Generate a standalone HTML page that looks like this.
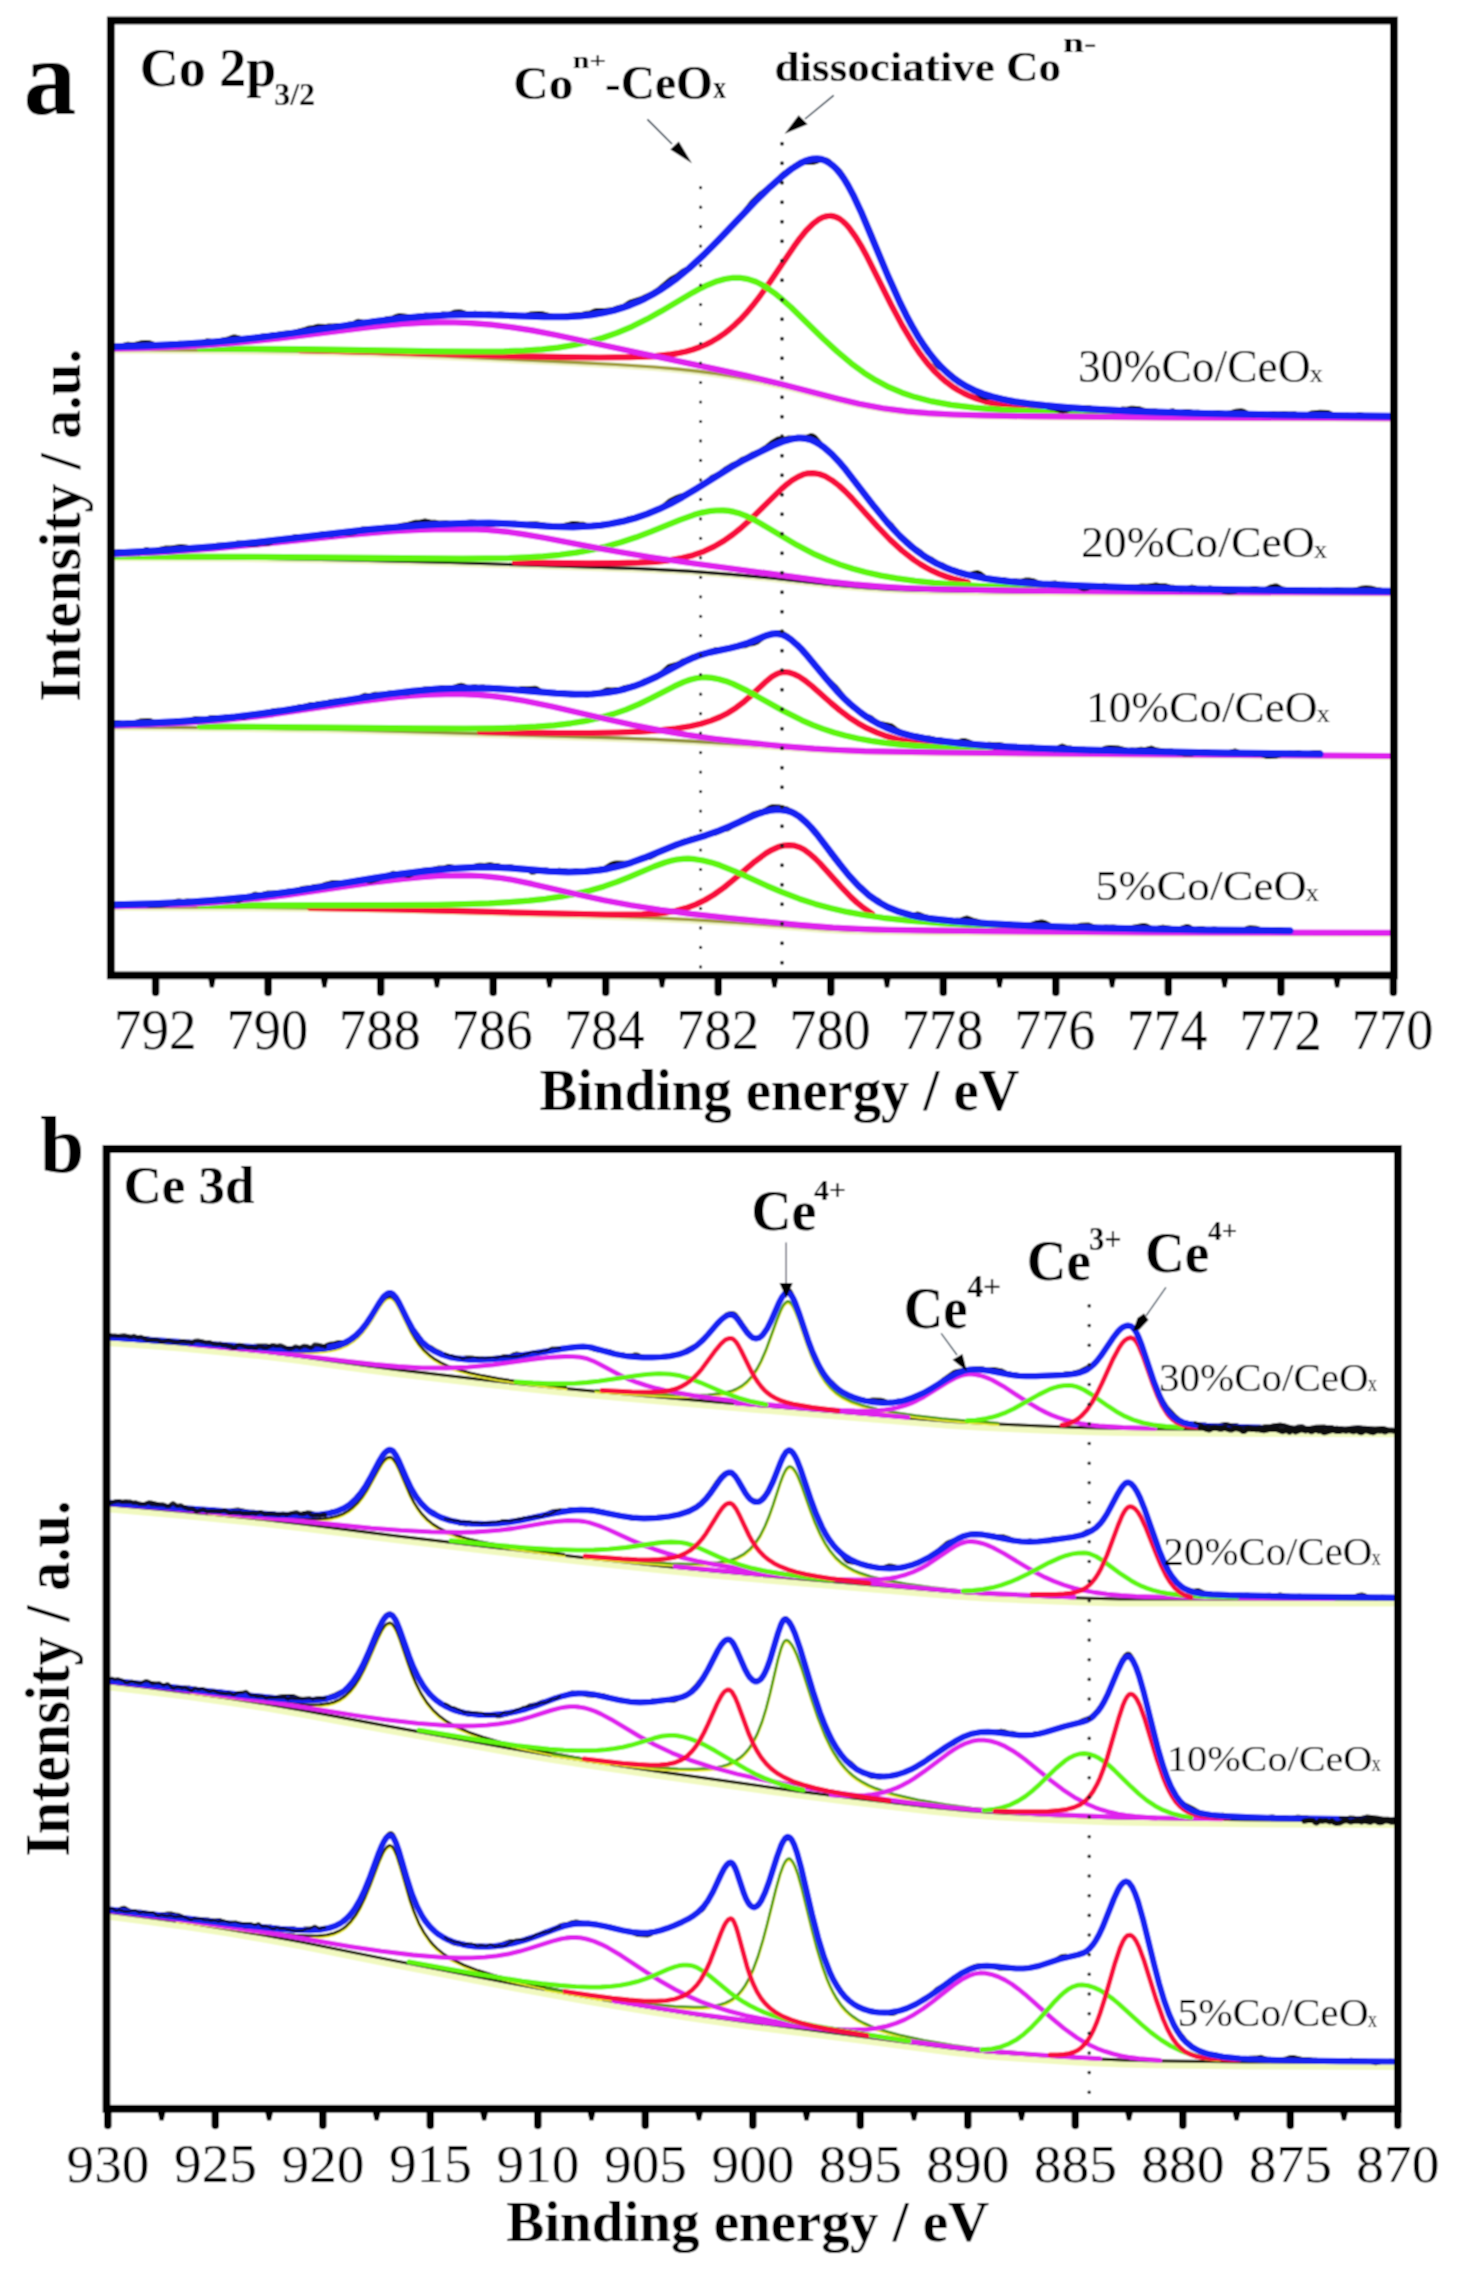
<!DOCTYPE html>
<html><head><meta charset="utf-8"><style>
html,body{margin:0;padding:0;background:#fff;width:1458px;height:2280px;overflow:hidden}
svg{display:block}
text{font-family:"Liberation Serif",serif}
</style></head><body>
<svg width="1458" height="2280" viewBox="0 0 1458 2280">
<defs><filter id="bl" x="0" y="0" width="1458" height="2280" filterUnits="userSpaceOnUse"><feConvolveMatrix order="3" kernelMatrix="1 2 1 2 4 2 1 2 1" edgeMode="duplicate" preserveAlpha="false"/></filter></defs>
<rect x="0" y="0" width="1458" height="2280" fill="#fff"/>
<g filter="url(#bl)">
<rect x="0" y="0" width="1458" height="2280" fill="#fff"/>
<polyline points="115,350.7 195,351.1 257,351.7 312,352.7 364,354.1 438,357 564,362.8 616,365.5 654,368 676,369.9 697,372.1 717,374.7 736,377.6 758,381.5 780,386.1 801,391 847,402.3 871,407.4 886,409.9 902,411.9 919,413.6 938,414.8 960,415.8 987,416.5 1071,417.7 1201,418.6 1390,419.2" fill="none" stroke="#e9efb0" stroke-width="6" stroke-linejoin="round" stroke-linecap="round" stroke-opacity="0.7"/>
<polyline points="115,349.7 195,350.1 257,350.7 312,351.7 364,353.1 438,356 564,361.8 616,364.5 654,367 676,368.9 697,371.1 717,373.7 736,376.6 758,380.5 780,385.1 801,390 847,401.3 871,406.4 886,408.9 902,410.9 919,412.6 938,413.8 960,414.8 987,415.5 1071,416.7 1201,417.6 1390,418.2" fill="none" stroke="#9c9a3a" stroke-width="3.2" stroke-linejoin="round" stroke-linecap="round"/>
<polyline points="300,350.2 377,351.9 526,356.4 565,357.1 599,357.5 630,357.2 653,356.3 671,354.4 679,353 686,351.5 693,349.5 700,347 706,344.5 712,341.4 718,337.9 724,333.8 730,329 735,324.6 740,319.8 746,313.4 752,306.3 758,298.7 770,282 794,246.4 800,238.2 806,230.8 813,223.7 819,219.3 822,217.7 825,216.6 828,216 831,215.9 834,216.4 837,217.5 840,219.1 843,221.4 846,224.2 849,227.6 856,237.4 861,245.6 867,256.6 891,304.5 902,325.1 913,343.4 919,352.3 924,359 929,365.2 935,371.8 940,376.6 946,381.8 952,386.3 958,390.1 964,393.4 970,396.2 977,398.9 985,401.4 994,403.6 1003,405.3 1014,407 1026,408.3 1056,410.7 1098,412.7 1151,414.3 1217,415.6 1300,416.5" fill="none" stroke="#f70a3c" stroke-width="6.2" stroke-linejoin="round" stroke-linecap="round"/>
<polyline points="200,348.5 303,349.1 440,351.3 480,351.5 504,351.3 524,350.5 542,349.3 558,347.6 574,345 589,341.8 603,337.8 617,332.9 632,326.6 647,319.1 661,311.3 693,292.4 701,288.1 708,284.8 717,281.2 725,279 733,277.8 740,277.8 748,279.1 756,281.8 760,283.7 765,286.5 774,292.7 782,299.2 791,307.3 823,338.5 837,351.4 851,363.2 864,372.8 876,380.3 889,387.2 902,392.7 915,397.1 932,401.4 951,404.9 974,407.7 1001,409.8 1036,411.7 1080,413.2 1133,414.5 1197,415.5" fill="none" stroke="#5ef50c" stroke-width="6.2" stroke-linejoin="round" stroke-linecap="round"/>
<polyline points="115,348.7 148,347.9 178,346.7 206,345.1 233,343.1 255,341 279,338.3 367,327.3 386,325.3 403,323.9 421,322.9 438,322.4 455,322.5 471,323.1 491,324.7 511,327.1 532,330.4 556,335 643,353.8 716,369.1 747,375.9 781,384 838,398.8 859,403.8 883,408.3 907,411.4 928,413.2 953,414.5 983,415.4 1025,416.2 1166,417.4 1390,418.2" fill="none" stroke="#df22ee" stroke-width="6.2" stroke-linejoin="round" stroke-linecap="round"/>
<polyline points="115,346 118,346.3 121,346 128,344.2 132,344.7 134,344.6 142,342.8 146,342.5 149,342.7 155,344.7 158,345.1 166,345.1 171,343.9 175,343.9 179,343.2 185,343.8 193,342.7 200,343.1 202,342.7 207,340.8 209,340.9 213,341.7 219,341 223,340 227,339.3 233,337 235,337 242,338.7 245,338.6 251,337.4 257,337.3 263,335.9 269,335.6 274,334.5 278,334.3 282,333.6 294,332.5 300,330.6 304,329.8 308,328.3 312,327.8 318,326.2 326,326.4 329,326 333,326.1 338,325.4 343,325.8 348,324.3 353,323.8 356,322.1 358,321.3 360,321.5 363,322.2 368,322.2 376,320.5 382,320.5 387,318.7 393,317.9 397,316.1 399,315.6 412,317 425,315.1 431,315.6 434,315.2 438,315.2 443,314 448,314.6 449,314.4 454,312.3 456,311.9 459,311.7 461,311.9 469,314.3 471,314.2 475,313.2 484,314.4 489,313.6 495,315 499,314.1 501,314 505,314.5 512,315.1 515,315 519,315.6 523,315.7 526,315.4 531,313.9 539,313.4 542,313.8 553,316.4 561,316.3 565,316 570,315.2 581,314.6 585,313.6 590,313.1 594,311.2 597,310.5 605,310.4 612,309.8 618,307.6 624,306.2 630,302.2 641,298.7 646,296.2 651,294.1 659,289 671,279 677,275.8 683,270.9 685,269.9 688,269 690,267.8 695,262.4 704,255.4 712,247 716,242.4 720,238.6 724,234 729,229.8 733,225 739,218.7 752,202.1 761,193.4 768,188.2 772,186 774,184.5 781,176.1 784,173.3 788,171 794,166.4 800,162.6 802,162.2 806,162.5 814,162.2 816,161.6 820,159.8 823,159.5 827,160.2 829,161.4 834,166.5 839,170.3 842,174.3 849,186.1 855,199.5 861,210.6 864,217 872,235.6 888,275.3 894,287.8 900,302 905,311.2 914,329.8 928,350.5 935,362.6 937,365.3 939,367.1 948,372 955,378.4 960,381.7 965,385.6 971,389.5 976,392 981,396 983,397.1 986,397.8 992,397.1 998,397.6 1005,399.1 1011,401.9 1015,401.9 1022,402.7 1027,402.8 1032,403.9 1041,404.8 1043,405.2 1049,407.5 1055,408.6 1061,410.6 1063,410.9 1066,410.4 1072,408.6 1077,408.6 1082,407.8 1089,407.7 1095,409.4 1104,409.2 1108,409.7 1113,410.9 1115,410.7 1122,409.1 1127,409.3 1131,408.3 1133,408.2 1139,408.7 1144,410.3 1150,411.3 1155,411 1161,412 1164,411.6 1168,411.8 1173,410.8 1177,412.6 1179,413 1186,411.5 1188,411.4 1193,412.4 1198,412.2 1200,412.4 1208,414.3 1210,414.1 1215,413 1219,412.6 1226,413.6 1231,412.6 1236,411.2 1241,410.7 1243,411.1 1248,413.5 1252,415.1 1254,415.5 1256,415.1 1260,413.7 1267,414.5 1273,413.5 1278,414 1284,413.5 1289,413.9 1295,413.8 1301,415.6 1303,415.9 1306,415.3 1312,412.9 1320,412.2 1328,412.6 1332,414.4 1336,415.1 1341,416.5 1347,415.2 1354,416 1358,414.8 1360,414.6 1364,415.4 1375,415.5 1380,416.5 1390,416.2" fill="none" stroke="#111" stroke-width="5" stroke-linejoin="round" stroke-linecap="round"/>
<polyline points="115,346.8 149,345.7 180,344.3 208,342.4 236,340 259,337.5 284,334.4 379,320.9 402,318.3 423,316.4 448,315 474,314.6 496,315 544,316.8 567,316.8 580,316.1 592,314.8 603,312.9 614,310.3 622,307.9 630,305.1 638,301.8 645,298.5 653,294.2 660,290 667,285.4 675,279.7 689,268.4 704,254.6 719,239.5 757,199.7 770,187.1 781,177.3 792,168.6 801,163 805,161.1 809,159.7 813,158.9 817,158.7 821,159.2 825,160.5 829,162.7 833,165.7 836,168.5 840,173.2 844,178.8 848,185.4 854,196.7 861,211.7 888,276 900,302.6 906,314.8 912,326 918,336.3 924,345.6 929,352.6 935,360.1 941,366.8 947,372.6 953,377.6 960,382.6 967,386.7 974,390.2 983,393.8 992,396.7 1003,399.4 1015,401.7 1029,403.7 1045,405.6 1064,407.2 1086,408.8 1139,411.4 1204,413.4 1286,415 1390,416.2" fill="none" stroke="#1622f2" stroke-width="7" stroke-linejoin="round" stroke-linecap="round"/>
<polyline points="115,558.2 241,559 347,560.8 450,563.5 640,569.7 688,572.1 731,575.3 771,579 836,586.2 862,588.5 891,590.3 923,591.5 976,592.5 1065,593.2 1390,594.1" fill="none" stroke="#e9efb0" stroke-width="6" stroke-linejoin="round" stroke-linecap="round" stroke-opacity="0.7"/>
<polyline points="115,557.2 241,558 347,559.8 450,562.5 640,568.7 688,571.1 731,574.3 771,578 836,585.2 862,587.5 891,589.3 923,590.5 976,591.5 1065,592.2 1390,593.1" fill="none" stroke="#141414" stroke-width="3.2" stroke-linejoin="round" stroke-linecap="round"/>
<polyline points="515,562.5 590,563.4 618,563.2 639,562.7 655,561.8 669,560.3 682,558.1 693,555.2 704,551.3 714,546.6 724,540.8 733,534.4 741,528 750,519.9 781,489.4 787,484.2 792,480.4 798,476.8 803,474.6 808,473.3 813,473.1 819,474 825,476.2 832,480.3 839,485.6 845,491.1 852,498.2 878,527.1 890,539.6 902,550.6 914,560 920,564 926,567.5 932,570.7 939,573.8 946,576.5 953,578.8 968,582.4" fill="none" stroke="#f70a3c" stroke-width="6.2" stroke-linejoin="round" stroke-linecap="round"/>
<polyline points="115,556.3 256,556.8 462,558.6 508,558.1 526,557.4 543,556.4 560,554.8 576,552.6 591,550 606,546.5 621,542.3 636,537.3 651,531.6 680,519.8 694,514.8 702,512.6 709,511.2 716,510.5 723,510.4 729,510.9 734,511.9 740,513.6 746,515.9 753,519.3 760,523.1 797,545.1 815,554.4 827,559.7 840,564.6 853,568.8 866,572.3 881,575.6 897,578.4 915,580.9 934,582.9 956,584.6 981,586 1043,588.4" fill="none" stroke="#5ef50c" stroke-width="6.2" stroke-linejoin="round" stroke-linecap="round"/>
<polyline points="115,554.2 165,551.8 214,548.3 258,544.3 349,534.8 390,531.4 413,530.1 434,529.3 455,529.1 476,529.5 487,530 498,530.8 510,532.2 523,534.1 544,537.7 594,547.4 621,552.3 651,557.2 685,562.2 826,581.3 854,584.4 881,586.6 906,588.1 935,589.2 1019,590.7 1169,591.9 1390,592.7" fill="none" stroke="#df22ee" stroke-width="6.2" stroke-linejoin="round" stroke-linecap="round"/>
<polyline points="115,552.3 120,551.5 126,552.6 128,552.7 132,551.7 134,551.5 139,552.8 141,552.4 145,550 147,549.5 151,551 153,551.4 155,550.9 158,549.7 166,548 171,548 181,546.4 187,547.2 193,548.5 197,547.6 202,547.3 206,546.4 210,547.1 211,547 215,545.6 217,545.3 226,544.9 232,545.4 233,545.2 236,543.5 238,543 242,543.3 248,544.5 256,544.4 261,543.1 263,542.9 268,543.3 274,541.1 291,538 296,536.5 298,536.4 303,537 307,536.8 319,534.7 324,533.5 326,533.7 329,534.7 331,535 333,534.9 340,533.3 350,533.4 355,532.5 361,529.5 363,528.9 371,529.3 376,528.4 386,527.3 390,527.3 395,527.8 401,525.4 407,524.6 415,522.3 420,522.2 425,520.9 430,521.9 435,522.2 440,523.1 446,522.8 454,524.3 457,524 461,522.9 471,522 475,522.3 481,523.5 491,524.5 494,524.2 498,522.9 500,523 504,523.9 515,523.3 521,524.3 524,524.6 526,524.6 530,523.9 536,523.7 542,524.6 550,526.2 555,526.2 559,526.6 561,526.3 572,523.6 574,523.4 579,524.1 583,524.2 588,526 590,526.2 597,526.2 607,524.7 613,523 618,522.6 621,521.9 629,518.6 636,518.1 645,514.4 650,511.9 655,511.1 657,510.5 663,506.4 670,500.8 676,497.6 679,496.5 682,495.8 685,494.6 698,487.1 703,484.6 706,482.5 712,477.2 719,473.9 726,468.6 733,464.5 737,462.8 742,459.4 746,457.9 752,454.4 759,451.5 767,446.5 772,442.4 778,439 780,438.7 784,439.1 789,437.9 794,438.8 797,438.8 802,437.4 807,437.1 811,435.6 813,436 815,437.4 822,445.5 837,458.8 843,466.8 851,475.9 861,489.2 871,501.6 878,511.4 884,518.4 892,525.7 899,534.5 902,537.5 908,542 913,547.1 920,551.7 926,556.7 931,558.7 935,561.8 937,563 943,565 948,568.3 953,569.6 966,574.7 967,575 969,574.9 974,573.2 977,572.6 978,572.7 980,573.6 985,577.3 987,578.3 995,580.4 998,580.4 1004,579.6 1010,581.9 1011,581.9 1015,580.9 1021,581.2 1026,580 1029,580 1033,580.6 1039,583.1 1042,583.8 1050,583.5 1055,582.9 1060,584.4 1064,584.3 1069,585.2 1076,585.9 1078,586.5 1082,588.3 1084,588.8 1086,588.6 1093,586.1 1095,585.8 1099,587.1 1100,587 1104,585.3 1105,585.4 1109,587.1 1113,586.8 1129,587.1 1137,586.7 1142,586 1147,586.3 1156,584.9 1160,585.8 1165,585.8 1170,586.9 1173,587.2 1179,589.5 1181,589.8 1185,589.3 1190,587.5 1192,587.1 1194,587.4 1198,589.2 1200,589.7 1203,589.6 1209,588.1 1211,588.1 1218,589.3 1224,591.5 1229,592 1235,591.5 1241,589.5 1248,589.6 1254,588.5 1256,588.6 1262,590 1264,589.8 1266,589.2 1270,587.2 1275,585.9 1277,586.1 1281,588.4 1284,589.3 1288,589.7 1293,589.6 1298,590.3 1303,589.9 1308,591 1310,591.2 1315,591.1 1320,589.8 1324,591.1 1326,591.3 1331,590.4 1337,589.7 1344,590.3 1353,590.3 1356,589.8 1361,588.3 1366,587.8 1372,588.3 1376,589.5 1380,590 1385,591.6 1390,591.2" fill="none" stroke="#111" stroke-width="5" stroke-linejoin="round" stroke-linecap="round"/>
<polyline points="115,552.9 166,550.3 216,546.4 262,541.8 369,529.6 399,526.9 427,524.9 459,523.5 489,523.1 509,523.8 552,526.4 573,526.9 592,526.1 601,525.2 610,523.9 623,521.3 635,518.1 647,514 659,509.1 670,503.8 682,497.3 696,489 731,467.2 742,461 756,453.8 773,445.6 784,441.1 793,438.7 797,438.1 801,438 805,438.4 809,439.3 812,440.3 816,442.2 820,444.6 824,447.4 832,454.4 839,461.8 846,470.1 874,506.3 887,522.1 894,529.9 900,536.1 906,541.8 912,547 918,551.7 924,556 930,559.7 937,563.6 944,566.9 951,569.7 958,572.1 966,574.3 976,576.6 986,578.5 997,580 1010,581.5 1042,584 1085,586.1 1140,587.9 1207,589.3 1289,590.4 1390,591.3" fill="none" stroke="#1622f2" stroke-width="7" stroke-linejoin="round" stroke-linecap="round"/>
<polyline points="115,727.8 242,729 339,730.6 420,732.8 608,738.7 655,740.4 694,742.3 741,745.2 822,750.5 847,751.6 876,752.4 936,753.4 1032,754.4 1390,757" fill="none" stroke="#e9efb0" stroke-width="6" stroke-linejoin="round" stroke-linecap="round" stroke-opacity="0.7"/>
<polyline points="115,726.8 242,728 339,729.6 420,731.8 608,737.7 655,739.4 694,741.3 741,744.2 822,749.5 847,750.6 876,751.4 936,752.4 1032,753.4 1390,756" fill="none" stroke="#8f8f3a" stroke-width="3.2" stroke-linejoin="round" stroke-linecap="round"/>
<polyline points="480,731.9 558,733 590,733 617,732.5 640,731.6 659,730.3 676,728.5 690,726.2 701,723.7 711,720.6 720,717 728,712.9 736,707.8 744,701.7 751,695.6 765,682.4 772,676.7 776,674.3 779,673 782,672.2 785,672 789,672.5 794,674.1 799,676.5 804,679.8 812,686.1 831,703 840,710.5 849,717.3 858,723.2 867,728.2 877,732.7 887,736.3 897,739.2 910,742 924,744.2 941,746.1 962,747.7 988,749.1 1019,750.3 1100,752.3" fill="none" stroke="#f70a3c" stroke-width="6.2" stroke-linejoin="round" stroke-linecap="round"/>
<polyline points="200,726.4 418,728.4 465,728.5 493,728.3 516,727.7 536,726.7 554,725.3 571,723.3 586,720.9 600,717.8 613,714.1 626,709.6 639,704.1 651,698.3 674,686.4 684,681.9 690,679.8 696,678.3 701,677.5 706,677.4 712,677.9 719,679.2 726,681.2 733,683.9 747,690.6 783,710.8 802,720.3 813,725.1 823,728.9 834,732.5 845,735.5 858,738.5 871,740.9 885,742.9 901,744.7 919,746.2 939,747.5 990,749.6" fill="none" stroke="#5ef50c" stroke-width="6.2" stroke-linejoin="round" stroke-linecap="round"/>
<polyline points="115,725.3 144,724.6 171,723.5 196,722 221,720.1 247,717.5 273,714.3 360,701.5 393,697.4 412,695.6 429,694.6 446,694.1 463,694.2 478,694.8 493,696.1 508,698.1 524,700.7 552,706.5 607,719.3 632,724.8 659,730.1 687,734.9 714,738.7 743,742.2 784,746.3 814,748.7 838,750 865,751.1 942,752.5 1101,754 1390,756" fill="none" stroke="#df22ee" stroke-width="6.2" stroke-linejoin="round" stroke-linecap="round"/>
<polyline points="115,722.7 118,722.5 122,723.5 124,723.7 129,722.4 134,722.9 140,721.1 148,720.6 150,720.7 154,722.2 156,722.6 164,722 172,722.2 178,720.5 183,721.3 185,721.2 190,720.3 193,719.1 195,718.6 204,719.6 206,719.3 210,717.7 215,717.4 217,717.4 221,717.9 225,717.1 229,717.3 233,716.7 237,716.4 239,716.5 244,717.4 246,716.9 250,715.1 253,714.2 260,714.4 264,713 275,710.4 278,710.3 281,710.9 283,710.9 290,708.7 295,707.9 300,706.7 305,706.3 310,704.5 314,704.6 319,703.5 326,703.1 331,701.5 336,701.1 340,700.3 344,701 346,701 353,699.5 358,698.1 360,697.4 364,695.5 365,695.3 370,695.7 375,694.2 384,693.9 390,692.9 395,693.4 400,692.5 405,693 409,692.9 411,692.6 416,690.8 424,689.1 435,688.9 442,687.8 448,688.5 454,687.3 459,685.6 461,685.2 464,685.9 468,688 469,688.2 470,688.1 473,686.9 475,686.7 478,687.5 482,687.1 484,687.1 488,688.3 490,688.6 495,688 503,688.6 508,688.6 517,690 522,688.5 527,688.8 535,688.3 537,688.8 541,691.4 543,692.3 548,692.1 552,693 556,692.9 560,693.7 565,693.1 570,694.7 577,694.6 580,693.9 582,693.8 585,694.8 587,695.1 591,694.2 596,693.8 599,693.2 606,690 608,689.8 612,690 616,689.5 619,689.6 621,689.1 625,687.4 628,687.1 632,686.1 637,685.5 639,684.7 643,681.9 645,680.8 650,679.6 653,678.3 662,672.7 669,666.4 677,664.2 679,663.3 683,660.8 687,659.6 692,657.2 701,654.1 709,652.2 715,649.7 725,649.2 730,647.8 735,647.2 739,646.1 745,645.8 750,643.9 754,643.5 757,642.3 763,637.8 765,636.6 774,633.5 780,632.5 783,633.3 788,636.3 791,638.9 799,646.7 803,650 810,658.1 825,676.8 835,686.2 840,692.2 847,701.3 852,706.6 854,707.9 857,709.2 859,710.4 865,715.4 871,717.7 877,722.5 879,723.3 891,725.8 893,726.9 896,729.4 902,732.7 904,733.5 908,734.2 911,735.2 915,735.7 919,736.7 925,737.8 930,738.1 935,739.5 940,739.7 945,741.4 949,741.6 953,742.4 958,741.9 963,740.5 965,740.6 968,741.6 975,744.5 977,744.9 984,744.8 989,744.2 995,744.7 1000,744.6 1003,745.2 1006,746.5 1008,747 1014,746.5 1020,747.1 1025,748 1030,747.1 1032,747 1039,748.3 1046,748.9 1051,748.8 1055,749.7 1057,749.1 1060,746.8 1062,746.1 1063,746.2 1067,747.9 1071,748.1 1076,749.4 1084,749.3 1090,750.7 1094,750.3 1099,750.8 1105,748.2 1110,747.5 1118,748 1127,750.2 1129,750.4 1132,750 1136,750.3 1141,749.2 1145,749.7 1151,748.1 1152,748.2 1155,749.5 1157,750.1 1161,750.4 1165,751.2 1172,751 1177,752.7 1185,754 1191,754 1199,752.8 1204,751.4 1215,752.9 1220,752.5 1225,753.6 1233,751.4 1235,751 1237,751.6 1241,753.5 1243,753.6 1247,752.6 1249,752.4 1251,752.8 1255,754.3 1261,754.4 1266,756.2 1268,756.6 1276,756 1281,754.5 1290,753 1294,753.2 1299,752.6 1304,753.9 1306,754 1314,752.8 1320,752.8" fill="none" stroke="#111" stroke-width="5" stroke-linejoin="round" stroke-linecap="round"/>
<polyline points="115,724.1 149,723.1 179,721.6 207,719.6 235,716.9 259,714 284,710.5 360,698.3 386,694.4 412,691.2 437,689.1 465,688 489,688.2 511,689.5 556,693.3 575,694.2 592,694 607,692.6 616,691.1 625,689 634,686.2 642,683.3 657,676.5 687,660.5 694,657.4 700,655.1 709,652.5 730,648.1 738,646.2 748,643 767,635.3 772,634 777,633.6 782,634.6 786,636.4 791,639.7 797,644.8 802,649.8 807,655.4 828,680.8 838,692.1 844,698.3 850,703.9 861,712.9 867,717.1 873,720.8 879,724.1 886,727.4 893,730.2 900,732.6 908,734.9 916,736.8 926,738.8 937,740.6 963,743.6 996,746.2 1037,748.3 1087,750.1 1148,751.6 1224,752.9 1320,754.1" fill="none" stroke="#1622f2" stroke-width="7" stroke-linejoin="round" stroke-linecap="round"/>
<polyline points="115,907.9 250,908.4 347,909.6 431,911.6 598,916.7 646,918.4 689,920.5 740,923.6 823,929.9 849,931.2 878,932 939,932.8 1045,933.4 1390,934.2" fill="none" stroke="#e9efb0" stroke-width="6" stroke-linejoin="round" stroke-linecap="round" stroke-opacity="0.7"/>
<polyline points="115,906.9 250,907.4 347,908.6 431,910.6 598,915.7 646,917.4 689,919.5 740,922.6 823,928.9 849,930.2 878,931 939,931.8 1045,932.4 1390,933.2" fill="none" stroke="#9c9a3a" stroke-width="3.2" stroke-linejoin="round" stroke-linecap="round"/>
<polyline points="310,907.8 395,909.3 540,913.2 606,914.5 627,914.7 642,914.4 654,913.8 665,912.7 676,910.8 686,908.1 696,904.4 705,900 714,894.6 724,887.5 733,880.2 755,861.4 766,853.3 772,849.8 778,847.1 784,845.5 789,845.1 794,845.5 799,847.1 804,849.6 810,854 815,858.4 820,863.4 841,886.7 851,897.1 857,902.6 862,906.7 872,913.7" fill="none" stroke="#f70a3c" stroke-width="6.2" stroke-linejoin="round" stroke-linecap="round"/>
<polyline points="200,905.4 385,905.2 438,904.8 465,904.2 489,903.4 510,902.2 529,900.7 546,898.8 562,896.4 576,893.8 590,890.5 604,886.4 617,881.9 629,877.1 654,866.5 665,862.5 671,860.8 677,859.5 683,858.8 688,858.7 695,859.2 703,860.5 711,862.4 720,865.3 735,871.3 767,885.8 782,892.2 799,898.7 815,903.9 831,908.3 847,911.9 864,915 883,917.8 909,920.6 940,923.1 975,925.1 1016,926.8 1063,928.3 1117,929.4 1258,931.1" fill="none" stroke="#5ef50c" stroke-width="6.2" stroke-linejoin="round" stroke-linecap="round"/>
<polyline points="115,906.1 149,905.4 179,904.3 207,902.8 233,900.8 259,898.3 286,895.1 371,882.8 403,878.8 421,877.1 438,876 455,875.5 471,875.6 481,876 491,876.8 501,878 512,879.8 532,883.9 579,894.8 604,900.2 631,905.2 660,909.8 691,913.9 729,918 798,924.9 833,927.7 858,928.9 888,929.8 986,931.2 1149,932.3 1390,932.9" fill="none" stroke="#df22ee" stroke-width="6.2" stroke-linejoin="round" stroke-linecap="round"/>
<polyline points="115,905.5 119,903.9 121,904 125,905.1 129,904.4 134,904.5 139,903.7 145,904.2 150,905.4 160,905.3 167,904.4 177,901.2 179,900.9 183,901.5 187,901.1 192,901.6 198,901.7 202,901.3 207,901.4 215,899.6 218,899.3 226,900.4 229,900.3 233,899.5 238,900.3 239,900.2 244,898.2 249,897 253,894.9 255,894.2 256,894.2 259,894.9 261,895 266,893.4 268,893 273,893 278,892.5 282,892.8 288,891.3 293,891.2 302,888.6 311,887.4 315,886.4 321,885.9 326,884.1 333,882.5 336,882.4 343,883.2 348,881.8 352,881.5 358,880.1 361,880.5 365,880.2 369,881.1 371,881.1 379,878.9 383,876.8 388,875.4 393,873.3 395,873.5 399,874.7 403,874.6 408,875.5 410,875 421,870.6 432,869.7 439,868 444,868 449,866.4 457,868 467,868 471,867.3 477,865.6 480,865.3 485,865.5 490,864.6 494,865.4 498,865.6 504,867.4 510,866.8 513,867.3 518,868.7 523,868.6 525,868.8 528,869.9 532,872.3 534,872.1 537,870.9 541,870.8 545,870.1 547,870.3 553,871.6 559,870.3 566,871 570,872 576,870.8 580,871.5 588,871.7 593,869.8 597,869.6 605,868.1 611,864.4 614,863.3 617,862.9 626,863.3 629,863.1 634,861.2 643,858.4 650,857.2 655,854.7 660,851.1 662,849.9 666,848.6 673,845.7 678,844.9 683,841.4 687,840.5 692,838.6 703,836.5 709,834.1 716,833 723,829.9 728,828.7 730,827.6 733,825.3 738,822.6 742,819.5 749,816.3 752,814.6 755,813.4 764,811 770,807.4 772,806.8 774,806.7 779,807 786,808.6 795,812.9 798,815 803,819.9 809,825.2 813,829.2 820,838.9 824,843.8 830,852.9 835,859.5 837,861.7 843,867.3 849,875.4 857,883.6 862,888 870,896.9 873,899.1 874,899.5 877,899.8 879,900.8 883,904.8 886,906.9 891,908.4 896,910.8 904,913.6 912,915.2 914,915.1 917,914.1 919,914.2 926,917 932,918.1 938,919.6 945,919.4 951,920.4 955,920.6 961,919.9 966,918.2 967,918.1 968,918.2 972,919.9 977,921.1 981,922.6 983,922.9 987,923 991,923.8 995,923.9 999,924.5 1009,923.9 1014,924.8 1021,925.4 1028,925.1 1030,924.8 1036,922.8 1040,922.1 1042,922 1045,922.7 1051,925.8 1054,926.8 1067,927.6 1069,927.5 1073,926.3 1078,925.9 1081,925.2 1087,924.9 1089,925.1 1094,926.9 1099,927.8 1101,927.8 1105,927.1 1109,927.2 1113,927 1127,928.8 1132,927.5 1142,925.6 1144,925.4 1147,926.2 1152,928.8 1154,929.1 1156,928.9 1161,927.4 1163,927.1 1177,929.2 1179,928.9 1187,926.5 1189,927 1193,929.2 1195,929.6 1200,928.5 1202,928.4 1206,929.6 1208,929.9 1214,929 1216,929.2 1220,930.2 1223,929.9 1228,930.2 1233,929.9 1242,930.6 1244,930.1 1248,928.1 1250,927.8 1256,928.2 1260,929.4 1265,929.5 1268,930.1 1270,930.1 1274,929.4 1279,929.5 1286,930.8 1290,930.7" fill="none" stroke="#111" stroke-width="5" stroke-linejoin="round" stroke-linecap="round"/>
<polyline points="115,904.8 153,903.7 187,902.2 218,900 247,897.3 272,894.3 298,890.6 375,878 401,874 427,870.8 452,868.5 476,867.2 493,867.2 510,868.1 549,871.2 568,872 585,871.6 600,870 608,868.7 616,866.9 624,864.8 632,862.3 644,857.9 677,844.5 686,841.5 706,835.3 719,830.7 730,826.2 752,816.3 760,813.1 765,811.5 770,810.4 775,809.7 779,809.6 786,810.5 790,811.6 793,812.8 799,816.3 806,822.2 811,827.4 817,834.4 840,864.5 849,875.6 859,886.4 869,895.3 878,901.7 888,907.2 899,911.7 911,915.1 919,916.8 929,918.4 953,921.1 987,923.6 1029,925.7 1078,927.4 1137,928.8 1207,929.9 1290,930.8" fill="none" stroke="#1622f2" stroke-width="7" stroke-linejoin="round" stroke-linecap="round"/>
<polyline points="110,1342.7 145,1345.2 181,1348.1 220,1351.7 259,1355.6 296,1360.1 369,1370.1 400,1374 490,1384.6 560,1392 625,1398 767,1410.3 952,1425.4 987,1427.5 1030,1429.5 1080,1431.4 1122,1432.5 1244,1433.5 1393,1433.8" fill="none" stroke="#eef7b0" stroke-width="7" stroke-linejoin="round" stroke-linecap="round" stroke-opacity="0.8"/>
<polyline points="110,1338.7 145,1341.2 181,1344.1 220,1347.7 259,1351.6 296,1356.1 369,1366.1 400,1370 490,1380.6 560,1388 625,1394 767,1406.3 952,1421.4 987,1423.5 1030,1425.5 1080,1427.4 1122,1428.5 1244,1429.5 1393,1429.8" fill="none" stroke="#202010" stroke-width="3" stroke-linejoin="round" stroke-linecap="round"/>
<polyline points="193,1345.5 263,1350.7 295,1352.6 308,1352.8 318,1352.5 327,1351.6 334,1350.3 341,1348.2 347,1345.6 353,1341.8 358,1337.7 363,1332.3 367,1327.1 371,1321.2 379,1308.2 383,1302.7 385,1300.6 387,1299.2 389,1298.5 390,1298.4 391,1298.6 393,1299.8 395,1301.9 397,1304.9 400,1310.5 411,1333.1 415,1339.9 419,1345.7 424,1351.6 429,1356.2 435,1360.7 441,1364.1 449,1367.8 459,1371.3 470,1374.3 483,1377.1 499,1380 518,1382.9 540,1385.8 566,1388.8" fill="none" stroke="#f0f030" stroke-width="3" stroke-linejoin="round" stroke-linecap="round"/>
<polyline points="193,1344 263,1349.2 295,1351.1 308,1351.3 318,1351 327,1350.1 334,1348.8 341,1346.7 347,1344.1 353,1340.3 358,1336.2 363,1330.8 367,1325.6 371,1319.7 379,1306.7 383,1301.2 385,1299.1 387,1297.7 389,1297 390,1296.9 391,1297.1 393,1298.3 395,1300.4 397,1303.4 400,1309 411,1331.6 415,1338.4 419,1344.2 424,1350.1 429,1354.7 435,1359.2 441,1362.6 449,1366.3 459,1369.8 470,1372.8 483,1375.6 499,1378.5 518,1381.4 540,1384.3 566,1387.3" fill="none" stroke="#1a1a00" stroke-width="2.5" stroke-linejoin="round" stroke-linecap="round"/>
<polyline points="596,1391.7 627,1394 654,1395.6 676,1396.5 694,1396.7 708,1396.2 719,1395.1 728,1393.3 732,1392.1 736,1390.5 742,1387.1 747,1383 752,1377.5 757,1370 761,1362.5 766,1351.1 777,1320.7 781,1310.8 783,1307 785,1304.4 787,1303 788,1302.8 789,1303 791,1304.5 793,1307.3 795,1311.2 799,1321.3 807,1344.7 811,1355.4 815,1364.7 820,1374.4 825,1382.2 830,1388.3 836,1393.9 843,1398.7 852,1403.1 863,1406.9 877,1410.5 894,1413.7 916,1416.9 942,1419.9 970,1422.5 998,1424.4" fill="none" stroke="#f0f030" stroke-width="3" stroke-linejoin="round" stroke-linecap="round"/>
<polyline points="596,1390.2 627,1392.5 654,1394.1 676,1395 694,1395.2 708,1394.7 719,1393.6 728,1391.8 732,1390.6 736,1389 742,1385.6 747,1381.5 752,1376 757,1368.5 761,1361 766,1349.6 777,1319.2 781,1309.3 783,1305.5 785,1302.9 787,1301.5 788,1301.3 789,1301.5 791,1303 793,1305.8 795,1309.7 799,1319.8 807,1343.2 811,1353.9 815,1363.2 820,1372.9 825,1380.7 830,1386.8 836,1392.4 843,1397.2 852,1401.6 863,1405.4 877,1409 894,1412.2 916,1415.4 942,1418.4 970,1421 998,1422.9" fill="none" stroke="#4d9a12" stroke-width="2.5" stroke-linejoin="round" stroke-linecap="round"/>
<polyline points="190,1344.3 267,1351.6 350,1361.7 375,1364.5 398,1366.5 422,1367.8 446,1368 468,1367.1 493,1364.8 534,1359 549,1357.3 565,1356.5 573,1356.7 580,1357.2 586,1358.3 593,1360.9 599,1363.8 620,1375.2 628,1378.9 637,1382.4 646,1385.4 656,1388.2 666,1390.5 678,1392.9 694,1395.6 712,1398.2 759,1403.7 815,1409.2 908,1417.3" fill="none" stroke="#df22ee" stroke-width="4.8" stroke-linejoin="round" stroke-linecap="round"/>
<polyline points="736,1403 799,1407.9 841,1410.5 855,1411 867,1411.1 877,1410.7 885,1409.9 892,1408.9 898,1407.5 905,1405.5 911,1403.2 917,1400.5 924,1396.8 947,1382.5 955,1378.1 960,1376 964,1374.8 968,1374.2 972,1374.2 977,1374.8 982,1376 987,1377.7 992,1379.9 1003,1386.1 1027,1401.8 1039,1408.9 1046,1412.5 1052,1415.2 1058,1417.5 1065,1419.8 1073,1421.9 1081,1423.6 1090,1424.9 1099,1425.9 1123,1427.5 1155,1428.3" fill="none" stroke="#df22ee" stroke-width="4.8" stroke-linejoin="round" stroke-linecap="round"/>
<polyline points="516,1381.8 533,1383 548,1383.6 562,1383.7 575,1383.3 587,1382.5 599,1381.2 635,1375.9 647,1374.4 659,1373.7 670,1374.1 680,1375.7 690,1378.6 700,1382.4 725,1393.1 739,1398.1 752,1401.7 766,1404.5" fill="none" stroke="#5ef50c" stroke-width="4.8" stroke-linejoin="round" stroke-linecap="round"/>
<polyline points="967,1420.7 976,1420.1 984,1419 992,1417.2 999,1415.1 1006,1412.4 1014,1408.6 1039,1394.5 1049,1389.6 1054,1387.7 1059,1386.4 1064,1385.6 1069,1385.4 1072,1385.6 1076,1386.5 1080,1388 1084,1389.9 1091,1394.1 1108,1406.1 1116,1411.3 1125,1416.3 1133,1419.7 1143,1422.9 1153,1424.9 1166,1426.5 1182,1427.5" fill="none" stroke="#5ef50c" stroke-width="4.8" stroke-linejoin="round" stroke-linecap="round"/>
<polyline points="602,1390.3 632,1391.9 653,1392.2 661,1391.7 667,1391 673,1389.7 678,1388 682,1386.2 686,1383.9 690,1381 694,1377.5 698,1373.4 702,1368.7 716,1349.7 721,1343.7 724,1340.9 726,1339.5 729,1338.4 731,1338.3 732,1338.5 734,1339.8 736,1341.9 738,1344.9 741,1350.4 751,1370.8 755,1377.8 758,1382.4 761,1386.3 764,1389.7 767,1392.5 771,1395.5 775,1397.9 780,1400.2 786,1402.2 793,1404 812,1407.3 838,1410.6" fill="none" stroke="#f70a3c" stroke-width="4.8" stroke-linejoin="round" stroke-linecap="round"/>
<polyline points="1062,1425.1 1066,1424.3 1070,1423.1 1076,1420.2 1079,1418 1082,1415.4 1087,1409.8 1092,1402.5 1097,1393.5 1102,1383.2 1113,1359 1119,1347.8 1122,1343.4 1125,1340.2 1128,1338.3 1131,1337.7 1133,1338.4 1135,1340.1 1137,1343 1139,1346.7 1143,1356.2 1153,1384.4 1157,1394.7 1162,1405.5 1167,1413.5 1170,1417.1 1173,1419.9 1176,1422.1 1180,1424.1 1184,1425.5 1188,1426.3 1200,1427.6" fill="none" stroke="#f70a3c" stroke-width="4.8" stroke-linejoin="round" stroke-linecap="round"/>
<polyline points="110,1337 114,1336.6 117,1336.7 131,1339.2 138,1337.8 146,1337.9 150,1338.9 154,1339.5 158,1340.4 163,1340.3 166,1340.5 175,1342.1 181,1341.6 185,1342.2 189,1342.3 194,1342.9 199,1342.9 205,1343.3 212,1344.7 217,1344.7 222,1345.2 231,1347.5 234,1347.9 242,1347.5 248,1346.1 253,1346 258,1345.4 262,1345.6 266,1345.4 269,1345.9 275,1348.2 280,1348.9 283,1348.9 288,1347.9 290,1348.1 294,1349.3 296,1349.1 300,1348.2 304,1348.7 308,1348.6 312,1349 314,1348.9 321,1347.4 324,1346.3 328,1344.3 330,1343.7 334,1343.3 339,1342 344,1342.1 346,1341.8 349,1340.5 352,1338.5 355,1335.9 361,1329.8 368,1321.2 371,1316.6 379,1302.6 382,1298.2 384,1296.1 387,1293.6 389,1292.6 390,1292.4 391,1292.5 392,1293.1 394,1295.2 403,1310.4 412,1327.4 417,1333.5 424,1343.3 426,1345 431,1347.1 436,1350.4 441,1352.6 445,1355.8 447,1356.6 451,1356.5 455,1357.7 461,1358.2 466,1357.4 470,1357.5 478,1358.5 483,1359.9 485,1360 490,1359.3 495,1357.9 500,1357.2 504,1356.2 510,1356 514,1354.1 516,1353.6 522,1354.2 528,1354.1 530,1353.8 534,1352.5 539,1352.6 543,1351.6 547,1351 551,1350.1 556,1349.8 562,1348 567,1348.2 573,1347 581,1346.7 588,1347 593,1349.2 597,1350.3 602,1350.8 607,1350.7 609,1350.9 618,1354.5 623,1354.5 628,1355.7 630,1355.6 634,1354.6 636,1354.4 638,1354.8 642,1356.5 645,1357 666,1357.2 670,1356.6 676,1354.1 681,1352.9 693,1346.5 697,1345 698,1344.4 706,1335.9 712,1330 717,1323.7 720,1320.4 726,1314.7 729,1313.4 732,1312.9 733,1313.1 734,1313.4 736,1314.9 738,1317.4 743,1324.9 749,1333.2 752,1336.7 754,1337.9 756,1338.4 758,1338.1 759,1337.6 761,1336 763,1333.7 768,1326.6 770,1322.9 777,1306.7 782,1296.6 785,1292 787,1290.2 788,1290 789,1290.2 790,1290.8 791,1292.1 794,1298.2 803,1324.1 809,1342.7 813,1353.1 818,1363.5 825,1374.9 828,1378.7 833,1383.1 837,1387.2 846,1394.5 855,1397.4 865,1399.9 868,1400.2 873,1399.5 881,1399.7 883,1400.1 888,1402 890,1402.4 892,1402.2 898,1400.7 904,1400.7 906,1400.3 914,1395.9 916,1395.4 919,1395.1 922,1394 931,1387.7 937,1384.5 944,1378.8 954,1372 957,1371 965,1369.8 973,1368.7 981,1368.2 983,1368.5 987,1369.8 993,1369.1 995,1369.1 1002,1370.5 1006,1372.6 1008,1373.3 1017,1374.7 1024,1374.9 1030,1375.6 1033,1375.4 1038,1375.7 1042,1375.1 1048,1375.6 1050,1375.6 1055,1374.8 1060,1374.6 1065,1373.5 1071,1373.1 1079,1371.3 1091,1365.3 1094,1363.2 1097,1359.9 1102,1353.4 1112,1338.6 1117,1332 1120,1329.2 1123,1327.3 1126,1326.1 1129,1325.8 1131,1326.2 1133,1327.5 1136,1331.4 1138,1335.2 1141,1342.9 1154,1380.9 1159,1393.1 1163,1400.7 1167,1407 1175,1415.9 1179,1419.1 1184,1422.2 1193,1424 1200,1424.7 1205,1424.5 1210,1425.6 1219,1425.3 1225,1424 1226,1424 1231,1425.3 1236,1425 1242,1427.1 1247,1426.5 1252,1427.5 1261,1427.3 1265,1426.3 1270,1426.2 1274,1425.2 1281,1424.6 1284,1425.1 1291,1427.5 1295,1428.3 1301,1427.7 1310,1428 1316,1426.7 1324,1426.4 1332,1428.2 1337,1427.7 1341,1429.3 1343,1429.8 1352,1428.1 1358,1428.4 1364,1427.8 1375,1428.6 1382,1427.9 1384,1428.1 1390,1430 1393,1430.2" fill="none" stroke="#111" stroke-width="4" stroke-linejoin="round" stroke-linecap="round"/>
<polyline points="110,1337.4 157,1340.3 242,1346.4 281,1348.8 296,1349.3 308,1349.4 318,1348.9 327,1347.9 336,1345.9 343,1343.5 350,1339.8 356,1335.2 361,1330.2 366,1324 371,1316.5 379,1303.3 383,1297.5 385,1295.4 387,1293.9 389,1293.1 390,1293 391,1293.1 393,1294.2 396,1297.6 399,1302.6 408,1320.8 412,1328.1 417,1335.7 422,1341.7 428,1347.1 434,1351 441,1354.3 450,1357.1 459,1358.7 469,1359.6 480,1359.7 492,1359.1 502,1358.2 514,1356.6 563,1348.6 575,1347.2 583,1346.7 588,1347 593,1347.9 615,1354 627,1356.2 635,1357 643,1357.4 652,1357.4 661,1357 670,1356.1 679,1354.3 686,1351.9 692,1348.8 697,1345.3 703,1339.9 708,1334.5 717,1324 721,1319.9 725,1316.7 727,1315.6 729,1314.9 731,1314.7 733,1315.1 736,1317.4 739,1321.1 747,1332.5 751,1336.5 753,1337.8 755,1338.4 757,1338.4 759,1337.8 761,1336.5 763,1334.6 767,1328.8 771,1321 779,1302.8 782,1297.2 785,1293.6 787,1292.7 788,1292.8 789,1293.2 791,1295 793,1298.1 795,1302.4 799,1313.1 808,1340.1 812,1350.7 818,1364 821,1369.5 824,1374.3 827,1378.4 831,1383 835,1386.8 839,1389.9 843,1392.5 848,1395.1 853,1397.2 859,1399.2 865,1400.7 871,1401.8 877,1402.5 883,1402.8 889,1402.7 894,1402.3 900,1401.4 905,1400.2 914,1397.2 923,1393.2 932,1388.2 949,1377.7 957,1373.5 964,1370.8 970,1369.6 976,1369.4 983,1369.9 990,1370.9 1011,1374.9 1019,1375.9 1026,1376.2 1036,1376.2 1065,1374.9 1074,1373.9 1080,1372.7 1084,1371.2 1087,1369.7 1091,1366.8 1094,1364.1 1097,1360.8 1101,1355.7 1113,1337.9 1118,1331.5 1121,1328.5 1123,1327.1 1126,1325.8 1128,1325.6 1131,1326.3 1133,1327.7 1135,1330.2 1137,1333.7 1139,1338.1 1142,1345.9 1154,1381.9 1160,1397.1 1163,1403.2 1167,1409.8 1170,1413.7 1174,1417.5 1178,1420.2 1183,1422.4 1188,1423.8 1195,1424.9 1205,1425.8 1219,1426.5 1260,1427.7" fill="none" stroke="#1622f2" stroke-width="6.2" stroke-linejoin="round" stroke-linecap="round"/>
<polyline points="110,1334.9 111,1335.3 115,1335.5 118,1336 124,1335.4 131,1336.9 134,1335.8 137,1337.2 138,1337.4 141,1336.9 147,1339.9 157,1339.8 159,1340.4 161,1341.5 162,1341.7 169,1340.4 173,1341.5 178,1342.3 181,1341.3 183,1341.1 186,1341.8 189,1341.8 192,1342.6 195,1340.9 198,1340.7 202,1341.3 206,1342.5 209,1342.2 210,1342.3 213,1343.6 217,1344.2 220,1343.7 223,1345.1 226,1344.8 228,1345.6 231,1345.9 233,1347.3 234,1347.6 235,1347.2 237,1345.7 239,1344.9 242,1345.4 247,1347.2 249,1347.3 252,1346.9 255,1347.9 256,1347.9 259,1346.2 260,1346.2 263,1347.3 266,1347.6 268,1347.2 272,1345.2 273,1345 277,1346 280,1345.4 281,1345.5 287,1348.1 290,1348.7 292,1348.3 295,1346.7 296,1346.6 300,1347.8 303,1346 304,1345.8 307,1346.1 310,1347.5 311,1347.6 312,1347 314,1345 315,1344.5 318,1344.8 325,1346.5" fill="none" stroke="#0a0a14" stroke-width="4.2" stroke-linejoin="round" stroke-linecap="round" stroke-opacity="0.9"/>
<polyline points="445,1353.6 449,1355 452,1355.5 455,1356.9 459,1357.1 462,1358.6 463,1358.7 467,1357.6 473,1356.9 475,1357 478,1357.8 482,1357.5 485,1358.1 493,1357 497,1357.8 502,1356.2 513,1356.7 518,1356.2 523,1354.9 526,1353.8 528,1353.6 531,1352 536,1351.9 539,1352.3 543,1350.9 546,1350.6 548,1349.9 551,1348 552,1347.6 560,1348.2" fill="none" stroke="#0a0a14" stroke-width="2.2" stroke-linejoin="round" stroke-linecap="round" stroke-opacity="0.9"/>
<polyline points="1195,1422.6 1201,1424.5 1204,1426.1 1205,1426.3 1208,1425.8 1211,1426.3 1214,1426 1222,1426.5 1226,1424.9 1228,1424.5 1229,1424.5 1233,1426.1 1237,1426.2 1240,1426.8 1243,1427.1 1249,1426.4 1253,1427.1 1257,1427 1260,1426.5 1263,1427.4 1264,1427.3 1268,1426.4 1272,1426.7 1275,1426.2 1280,1426.7 1288,1426.4 1294,1427.2 1295,1427.1 1298,1426 1302,1425.6 1303,1425.9 1306,1427.7 1311,1428.3 1313,1428.1 1316,1427.2 1320,1428.4 1322,1428.4 1330,1426.4 1332,1426.5 1335,1427.8 1337,1428.3 1341,1427.5 1345,1427.9 1358,1426.6 1362,1427.1 1365,1427.9 1368,1427.8 1371,1428.9 1374,1428.9 1378,1429.7 1382,1429.6 1386,1430.2 1391,1429 1393,1429" fill="none" stroke="#0a0a14" stroke-width="3.0" stroke-linejoin="round" stroke-linecap="round" stroke-opacity="0.9"/>
<polyline points="1200,1427.7 1202,1427.1 1206,1429.4 1209,1430.1 1210,1429.9 1213,1428.3 1215,1427.9 1220,1429.3 1222,1429.2 1225,1428.4 1230,1430.1 1232,1429.9 1235,1428.6 1237,1428.8 1240,1429.7 1243,1431.5 1244,1431.5 1245,1431 1247,1429.3 1248,1429.1 1252,1429.4 1254,1429.2 1256,1429.8 1257,1429.8 1258,1429.3 1262,1430.5 1264,1430.7 1269,1429.6 1277,1429.6 1281,1431.2 1283,1431.7 1285,1431 1286,1430.1 1287,1430.4 1289,1432.3 1290,1432.3 1292,1430.3 1293,1430.5 1295,1431.9 1296,1432 1301,1429.9 1302,1429.9 1305,1431 1306,1430.9 1308,1430 1311,1431.8 1312,1431.7 1315,1430.2 1316,1430.2 1319,1431.3 1321,1430.5 1323,1432.4 1324,1432.8 1325,1432.7 1329,1431.3 1333,1430.3 1337,1431.5 1340,1431.4 1343,1430.4 1346,1431.3 1349,1430.4 1353,1431.8 1354,1431.7 1356,1430.8 1357,1430.6 1360,1432.6 1361,1432.8 1362,1432.5 1365,1430.8 1366,1430.6 1371,1432.3 1373,1432.7 1374,1432.5 1377,1431.1 1378,1430.9 1380,1431.2 1381,1431.1 1382,1430.5 1384,1431.9 1385,1432.1 1386,1431.9 1388,1430.7 1389,1430.6 1391,1430.8 1392,1430.6 1393,1431.2" fill="none" stroke="#080808" stroke-width="5" stroke-linejoin="round" stroke-linecap="round"/>
<polyline points="110,1509 184,1515.4 262,1523.3 303,1528.1 393,1539.4 495,1551.5 585,1561.7 662,1570 712,1574.9 770,1580.3 955,1596.1 988,1598.2 1034,1600.2 1081,1601.9 1120,1602.9 1148,1603.1 1393,1603.1" fill="none" stroke="#eef7b0" stroke-width="7" stroke-linejoin="round" stroke-linecap="round" stroke-opacity="0.8"/>
<polyline points="110,1505 184,1511.4 262,1519.3 303,1524.1 393,1535.4 495,1547.5 585,1557.7 662,1566 712,1570.9 770,1576.3 955,1592.1 988,1594.2 1034,1596.2 1081,1597.9 1120,1598.9 1148,1599.1 1393,1599.1" fill="none" stroke="#202010" stroke-width="3" stroke-linejoin="round" stroke-linecap="round"/>
<polyline points="209,1514.1 269,1519 300,1520.7 312,1520.8 322,1520.3 330,1519.3 337,1517.6 343,1515.3 348,1512.5 353,1508.7 358,1503.8 362,1498.8 367,1491.3 379,1469.6 382,1464.7 384,1462.1 386,1460.1 388,1458.9 390,1458.6 391,1458.8 393,1460.2 396,1464.4 399,1470.5 410,1496.1 414,1503.8 418,1510.1 422,1515.4 427,1520.7 433,1525.6 439,1529.4 447,1533.3 456,1536.7 467,1539.9 480,1542.9 495,1545.8 514,1548.9 564,1555.7" fill="none" stroke="#f0f030" stroke-width="3" stroke-linejoin="round" stroke-linecap="round"/>
<polyline points="209,1512.6 269,1517.5 300,1519.2 312,1519.3 322,1518.8 330,1517.8 337,1516.1 343,1513.8 348,1511 353,1507.2 358,1502.3 362,1497.3 367,1489.8 379,1468.1 382,1463.2 384,1460.6 386,1458.6 388,1457.4 390,1457.1 391,1457.3 393,1458.7 396,1462.9 399,1469 410,1494.6 414,1502.3 418,1508.6 422,1513.9 427,1519.2 433,1524.1 439,1527.9 447,1531.8 456,1535.2 467,1538.4 480,1541.4 495,1544.3 514,1547.4 564,1554.2" fill="none" stroke="#1a1a00" stroke-width="2.5" stroke-linejoin="round" stroke-linecap="round"/>
<polyline points="585,1558 620,1561.3 648,1563.5 671,1564.9 690,1565.4 705,1565.1 718,1564 728,1562.1 733,1560.6 737,1559.1 744,1555.3 750,1550.4 755,1544.7 760,1537.2 765,1527.3 769,1517.6 773,1506.3 780,1484.8 783,1476.8 785,1472.5 787,1469.5 789,1468 790,1467.9 792,1468.7 794,1470.7 796,1473.8 798,1477.8 802,1487.8 810,1510.5 815,1523.7 820,1535 825,1544.4 830,1552 836,1559.2 842,1564.6 849,1569.2 854,1571.8 859,1574 871,1578 887,1581.8 906,1585.2 931,1588.8 958,1591.7 985,1594 1014,1595.7" fill="none" stroke="#f0f030" stroke-width="3" stroke-linejoin="round" stroke-linecap="round"/>
<polyline points="585,1556.5 620,1559.8 648,1562 671,1563.4 690,1563.9 705,1563.6 718,1562.5 728,1560.6 733,1559.1 737,1557.6 744,1553.8 750,1548.9 755,1543.2 760,1535.7 765,1525.8 769,1516.1 773,1504.8 780,1483.3 783,1475.3 785,1471 787,1468 789,1466.5 790,1466.4 792,1467.2 794,1469.2 796,1472.3 798,1476.3 802,1486.3 810,1509 815,1522.2 820,1533.5 825,1542.9 830,1550.5 836,1557.7 842,1563.1 849,1567.7 854,1570.3 859,1572.5 871,1576.5 887,1580.3 906,1583.7 931,1587.3 958,1590.2 985,1592.5 1014,1594.2" fill="none" stroke="#4d9a12" stroke-width="2.5" stroke-linejoin="round" stroke-linecap="round"/>
<polyline points="110,1503.9 166,1508.4 230,1514.1 371,1528.1 401,1530.4 431,1531.9 461,1532.3 475,1532 488,1531.2 500,1530.2 513,1528.5 547,1522.7 557,1521.3 568,1520.5 579,1520.9 584,1521.5 589,1522.5 599,1525.7 608,1529.4 630,1539.5 641,1544.2 654,1549.1 667,1553.4 681,1557.3 697,1561 714,1564.3 734,1567.6 767,1572.2 806,1576.7 897,1585.9 938,1589.7 965,1591.9 990,1593.5 1074,1597.1" fill="none" stroke="#df22ee" stroke-width="4.8" stroke-linejoin="round" stroke-linecap="round"/>
<polyline points="675,1566.7 750,1573.4 814,1578.1 837,1579.4 855,1579.9 869,1580 881,1579.4 890,1578.3 898,1576.8 906,1574.6 913,1572 920,1568.8 928,1564.3 950,1549.5 957,1545.3 961,1543.4 965,1542.1 969,1541.5 972,1541.5 977,1542.1 982,1543.3 987,1545 993,1547.6 1004,1553.5 1025,1566.3 1035,1572.1 1045,1577.3 1054,1581.3 1064,1585 1074,1588.1 1084,1590.5 1095,1592.5 1107,1594.1 1121,1595.4 1136,1596.3 1154,1596.9 1223,1597.9 1334,1598.5" fill="none" stroke="#df22ee" stroke-width="4.8" stroke-linejoin="round" stroke-linecap="round"/>
<polyline points="451,1540.7 493,1545 526,1547.8 553,1549.5 577,1550.2 594,1550 609,1549.2 626,1547.5 661,1542.5 671,1542 680,1542.4 686,1543.4 693,1545.5 700,1548.4 719,1557 728,1560.7 740,1564.8 752,1568.2 767,1571.4 784,1574.2 805,1577 833,1580.1" fill="none" stroke="#5ef50c" stroke-width="4.8" stroke-linejoin="round" stroke-linecap="round"/>
<polyline points="963,1591 973,1590.5 983,1589.4 992,1587.7 1001,1585.3 1010,1582.1 1019,1578.2 1028,1573.8 1049,1562.7 1060,1557.7 1066,1555.6 1072,1554 1078,1553.1 1084,1552.9 1087,1553.2 1090,1553.9 1096,1556.4 1103,1560.8 1121,1574.1 1131,1580.6 1136,1583.4 1142,1586.3 1147,1588.2 1153,1590.2 1160,1592 1167,1593.4 1183,1595.3 1205,1596.6 1237,1597.5" fill="none" stroke="#5ef50c" stroke-width="4.8" stroke-linejoin="round" stroke-linecap="round"/>
<polyline points="585,1556.1 622,1558.9 637,1559.6 649,1559.8 659,1559.5 667,1558.7 674,1557.5 680,1555.7 685,1553.5 690,1550.5 694,1547.4 698,1543.6 702,1539 706,1533.6 718,1514.2 722,1508.4 724,1506.1 726,1504.4 728,1503.4 730,1503.2 731,1503.4 733,1504.7 736,1508.7 739,1514.3 749,1535.4 752,1540.8 756,1546.9 760,1551.9 764,1556 769,1560.1 774,1563.3 781,1566.8 788,1569.5 796,1572 806,1574.3 817,1576.4 831,1578.6 869,1583.2" fill="none" stroke="#f70a3c" stroke-width="4.8" stroke-linejoin="round" stroke-linecap="round"/>
<polyline points="1032,1594.5 1056,1594.3 1064,1593.9 1071,1593.1 1076,1592.1 1081,1590.4 1085,1588.3 1089,1585.3 1092,1582.3 1095,1578.6 1098,1574 1101,1568.6 1107,1555.1 1118,1525.5 1122,1515.9 1124,1512.1 1126,1509.2 1128,1507.3 1130,1506.6 1132,1506.9 1135,1508.8 1138,1512.3 1141,1517.3 1146,1528.1 1157,1555.9 1161,1565.3 1166,1575.4 1170,1581.9 1175,1588.2 1180,1592.5 1185,1595.3 1191,1597.3" fill="none" stroke="#f70a3c" stroke-width="4.8" stroke-linejoin="round" stroke-linecap="round"/>
<polyline points="110,1502.3 119,1502.9 127,1502.4 132,1504.4 138,1505.7 140,1505.9 143,1505.1 149,1502.6 151,1502.4 157,1504 163,1506 170,1505.9 175,1507.8 177,1508.1 186,1507.3 191,1509 193,1509.4 204,1509.4 211,1508.9 215,1509.6 220,1511.1 225,1511.9 227,1511.6 233,1509.9 238,1509.5 249,1511.7 254,1511.7 259,1513.1 264,1513.4 272,1513.1 275,1513.6 280,1514.9 288,1515.1 293,1514 298,1514.7 300,1514.3 304,1512.9 309,1512.4 311,1512.7 315,1514.1 323,1514.1 325,1513.9 332,1511.5 343,1509.3 345,1508 353,1500.5 359,1494.2 368,1481.7 370,1478.4 375,1468.8 381,1458.6 383,1455.7 385,1453.6 387,1452.3 389,1451.3 391,1451.1 393,1451.9 394,1452.7 397,1456.9 401,1465.1 408,1481.8 412,1489.5 419,1499.5 426,1507.5 429,1510.3 434,1512.4 440,1517.1 443,1518.2 451,1520.2 459,1523.5 466,1524.5 471,1523.4 476,1523.9 486,1522.9 491,1523.4 494,1523.4 497,1523 501,1521.8 507,1521.1 513,1521.7 515,1521.1 518,1519.7 520,1519.2 536,1516.4 542,1515.8 546,1514.3 550,1512.1 553,1511.1 566,1510.2 571,1509.3 576,1510.2 580,1509.2 585,1509.7 589,1508.9 591,1509 595,1510.2 602,1511.2 608,1513.3 614,1514.4 621,1515.1 629,1517.9 633,1518.9 635,1518.9 640,1518.1 646,1518.3 651,1518 660,1517.2 666,1516 671,1515.8 680,1514.1 690,1509.7 697,1505.9 703,1501.3 706,1498.2 717,1481.6 721,1476.4 724,1473.8 727,1472.4 729,1472.2 731,1472.5 733,1473.6 735,1475.5 738,1479.7 745,1491.9 748,1496.2 750,1498.4 752,1499.8 754,1500.6 757,1501 759,1500.6 761,1499.2 764,1496.1 766,1493.4 768,1490.1 775,1475.2 781,1460.8 784,1454.8 787,1451 789,1449.8 790,1449.8 791,1450.3 793,1452.5 795,1455.9 797,1460.2 806,1484.7 814,1508.1 817,1515.4 825,1532.9 828,1537.9 835,1547.3 840,1552.9 846,1560.3 847,1561.1 849,1562.1 869,1565.2 875,1567 877,1567.4 882,1567.6 889,1565.5 892,1565.8 899,1567.4 902,1567.2 908,1565.4 914,1563.3 918,1561.5 922,1560.8 924,1560.1 927,1558.3 933,1553.6 938,1550.3 946,1543.4 948,1542.1 956,1539.1 966,1536 970,1534 972,1533.4 974,1533.4 987,1535.3 993,1535.5 997,1536.2 1003,1536.2 1010,1538.5 1014,1540.2 1023,1541.5 1025,1541.4 1030,1540.5 1037,1541.9 1044,1540.9 1052,1538.8 1055,1538.6 1062,1539.1 1069,1537.1 1074,1536.7 1079,1535.8 1081,1535 1086,1531.6 1088,1530.8 1091,1530.4 1093,1529.6 1096,1527.5 1100,1523.8 1102,1521.4 1105,1516.7 1117,1494.8 1121,1488.1 1124,1484.5 1126,1483.2 1128,1482.8 1129,1482.9 1131,1483.8 1134,1486.4 1137,1491.1 1141,1499.3 1144,1506.2 1147,1514.2 1160,1552 1163,1559.2 1167,1567.2 1171,1574.1 1176,1581.2 1180,1585.7 1183,1587.6 1188,1589 1192,1590.7 1194,1590.7 1197,1590.1 1199,1590.3 1204,1592.6 1208,1593.7 1215,1594.5 1221,1594.2 1229,1595.8 1234,1595.2 1242,1595.5 1246,1594.8 1248,1594.7 1258,1596.5 1265,1595.1 1270,1594.8 1275,1595.4 1280,1594.4 1285,1595.5 1293,1596.2 1300,1595.8 1305,1596.8 1310,1596.7 1315,1597.2 1321,1596.7 1336,1597 1343,1596.7 1348,1597.8 1351,1597.4 1358,1595.1 1362,1594.6 1364,1594.9 1368,1596.7 1372,1597.4 1375,1598.3 1377,1598.2 1382,1596.8 1386,1596.9 1391,1597.6 1393,1597.6" fill="none" stroke="#111" stroke-width="4" stroke-linejoin="round" stroke-linecap="round"/>
<polyline points="110,1502.9 230,1511.7 276,1514.6 294,1515.2 308,1515.2 320,1514.5 329,1513.3 337,1511.2 344,1508.2 350,1504.3 356,1498.8 361,1492.8 366,1485.4 370,1478.4 379,1461.4 383,1455 385,1452.5 387,1450.8 389,1449.9 390,1449.8 391,1450 393,1451.2 396,1455.3 399,1461.2 407,1479.7 411,1488 416,1496.5 421,1503.2 427,1509.1 430,1511.5 434,1514 441,1517.5 450,1520.5 460,1522.5 472,1523.7 485,1524 498,1523.3 509,1522.1 521,1520.2 553,1513.4 563,1511.6 572,1510.4 581,1509.9 588,1510.1 595,1510.9 621,1516 632,1517.6 644,1518.3 657,1517.9 669,1516.5 679,1514.5 689,1511.2 696,1507.6 701,1503.8 706,1498.8 711,1492.5 720,1479.8 723,1476.3 726,1473.7 729,1472.5 731,1472.6 732,1473.1 735,1475.9 738,1480.4 745,1492.4 748,1496.7 750,1498.9 753,1501.1 755,1501.9 758,1501.9 760,1501.2 762,1499.8 764,1497.8 768,1492 773,1481.6 780,1463.8 783,1457 786,1452.2 788,1450.6 789,1450.3 791,1451 793,1453 795,1456.1 797,1460.1 801,1470.4 811,1500.2 816,1513.6 822,1527.1 825,1532.8 829,1539.3 833,1544.7 837,1549.2 841,1553 845,1556.1 850,1559.2 856,1562.1 862,1564.3 868,1566 879,1568 890,1568.5 896,1568.2 901,1567.6 906,1566.6 911,1565.3 919,1562.3 928,1557.8 936,1552.9 952,1542.1 958,1538.6 964,1535.9 970,1534.5 976,1534.2 983,1534.7 990,1535.9 1013,1540.5 1021,1541.5 1029,1541.8 1038,1541.5 1049,1540.4 1073,1537 1082,1535 1088,1532.6 1092,1530.5 1096,1527.7 1100,1523.8 1103,1520 1107,1513.9 1118,1493.3 1121,1488.3 1123,1485.6 1125,1483.6 1127,1482.6 1128,1482.5 1129,1482.6 1131,1483.7 1134,1486.9 1137,1491.6 1140,1497.7 1145,1510.2 1159,1549.9 1164,1562 1168,1570 1172,1576.5 1177,1582.7 1182,1587 1185,1588.8 1188,1590.3 1194,1592.2 1202,1593.6 1212,1594.4 1229,1595.2 1294,1596.7 1393,1597.7" fill="none" stroke="#1622f2" stroke-width="6.2" stroke-linejoin="round" stroke-linecap="round"/>
<polyline points="110,1502.9 115,1501.4 119,1501 120,1501.1 122,1501.9 126,1501.3 128,1501.6 130,1501.5 133,1502.6 136,1502.4 139,1503.6 142,1504 145,1503.9 148,1502.6 149,1502.7 152,1504.2 154,1504 157,1504.5 163,1504.4 164,1504.7 167,1506.1 168,1506.3 169,1506.1 172,1503.6 173,1503.2 174,1503.6 177,1505.9 178,1505.9 180,1505.3 181,1505.4 184,1507 188,1508.5 189,1508.8 192,1508.5 193,1508.8 196,1511.2 197,1511.3 203,1509.6 204,1509.7 207,1511.5 211,1511 221,1511.3 224,1510.4 225,1510.5 230,1513 234,1512.3 237,1512.7 239,1512.3 240,1512.4 243,1513.4 246,1513.1 249,1513.4 253,1512.8 256,1513.6 260,1512.1 261,1512.2 265,1514.1 269,1513.7 279,1514.4 283,1513.7 286,1514.4 287,1514.4 292,1513 296,1512.4 297,1512.4 300,1513.8 302,1514.2 304,1513.9 307,1512.7 308,1512.8 309,1513.2 311,1514.8 313,1515.5 317,1515.1 320,1515.8 323,1514.6 324,1514.5 325,1514.8" fill="none" stroke="#0a0a14" stroke-width="4.2" stroke-linejoin="round" stroke-linecap="round" stroke-opacity="0.9"/>
<polyline points="445,1518.7 447,1519.3 451,1519.6 454,1520.8 458,1520.5 461,1521.9 462,1522 464,1521.5 467,1521.8 469,1521.6 472,1522.5 476,1522.2 481,1523.3 484,1522.8 488,1522.9 492,1522 495,1522.1 497,1521.9 502,1520.6 510,1521.1 516,1519.2 520,1519.4 524,1517.9 526,1518 531,1517.4 535,1516.2 538,1516.4 541,1517 542,1516.8 545,1514.1 546,1514.1 548,1514.7 549,1514.6 553,1512.8 556,1510.8 560,1509.5" fill="none" stroke="#0a0a14" stroke-width="2.2" stroke-linejoin="round" stroke-linecap="round" stroke-opacity="0.9"/>
<polyline points="110,1687 148,1691.4 187,1696.4 229,1702.3 267,1708.1 307,1715 386,1729.8 506,1751.5 548,1758.7 598,1766.5 664,1776.2 800,1795.4 841,1800.6 932,1811.3 966,1814.6 996,1816.8 1055,1819.7 1108,1821.7 1147,1822.6 1245,1823.7 1322,1824.3 1393,1824.5" fill="none" stroke="#eef7b0" stroke-width="7" stroke-linejoin="round" stroke-linecap="round" stroke-opacity="0.8"/>
<polyline points="110,1683 148,1687.4 187,1692.4 229,1698.3 267,1704.1 307,1711 386,1725.8 506,1747.5 548,1754.7 598,1762.5 664,1772.2 800,1791.4 841,1796.6 932,1807.3 966,1810.6 996,1812.8 1055,1815.7 1108,1817.7 1147,1818.6 1245,1819.7 1322,1820.3 1393,1820.5" fill="none" stroke="#202010" stroke-width="3" stroke-linejoin="round" stroke-linecap="round"/>
<polyline points="191,1693.2 267,1702.5 298,1705.6 310,1706.2 320,1706.1 328,1705.1 334,1703.5 340,1700.8 345,1697.4 350,1692.7 355,1686.5 359,1680.3 364,1670.9 368,1662.3 378,1639.2 382,1631.3 384,1628.2 386,1626 388,1624.7 390,1624.3 391,1624.6 393,1626.2 395,1629.2 397,1633.3 400,1641 408,1664.6 412,1675.5 416,1684.9 421,1694.8 427,1704.1 433,1711.3 440,1717.8 447,1722.9 457,1728.5 469,1733.7 483,1738.5 501,1743.6 522,1748.6 546,1753.5 575,1758.8 609,1764.4" fill="none" stroke="#f0f030" stroke-width="3" stroke-linejoin="round" stroke-linecap="round"/>
<polyline points="191,1691.7 267,1701 298,1704.1 310,1704.7 320,1704.6 328,1703.6 334,1702 340,1699.3 345,1695.9 350,1691.2 355,1685 359,1678.8 364,1669.4 368,1660.8 378,1637.7 382,1629.8 384,1626.7 386,1624.5 388,1623.2 390,1622.8 391,1623.1 393,1624.7 395,1627.7 397,1631.8 400,1639.5 408,1663.1 412,1674 416,1683.4 421,1693.3 427,1702.6 433,1709.8 440,1716.3 447,1721.4 457,1727 469,1732.2 483,1737 501,1742.1 522,1747.1 546,1752 575,1757.3 609,1762.9" fill="none" stroke="#1a1a00" stroke-width="2.5" stroke-linejoin="round" stroke-linecap="round"/>
<polyline points="553,1755.8 591,1761.2 626,1765.7 655,1768.7 678,1770.3 696,1770.6 710,1769.7 716,1768.9 722,1767.6 727,1766.1 732,1764 736,1761.8 740,1759.1 743,1756.5 746,1753.4 749,1749.7 752,1745.2 757,1735.7 762,1723 766,1710.1 770,1694.7 778,1660.4 781,1649.8 783,1644.8 784,1643.1 785,1642 786,1641.5 787,1641.6 789,1642.7 792,1646.3 794,1649.8 797,1656.5 802,1670.3 812,1701.5 818,1719 825,1736.6 831,1749 834,1754.3 838,1760.5 841,1764.6 845,1769.4 849,1773.5 853,1777 857,1780 862,1783.1 869,1786.8 876,1789.8 884,1792.6 894,1795.6 905,1798.3 918,1801.2 946,1806 972,1809.5 998,1812 1043,1815 1090,1817.4" fill="none" stroke="#f0f030" stroke-width="3" stroke-linejoin="round" stroke-linecap="round"/>
<polyline points="553,1754.3 591,1759.7 626,1764.2 655,1767.2 678,1768.8 696,1769.1 710,1768.2 716,1767.4 722,1766.1 727,1764.6 732,1762.5 736,1760.3 740,1757.6 743,1755 746,1751.9 749,1748.2 752,1743.7 757,1734.2 762,1721.5 766,1708.6 770,1693.2 778,1658.9 781,1648.3 783,1643.3 784,1641.6 785,1640.5 786,1640 787,1640.1 789,1641.2 792,1644.8 794,1648.3 797,1655 802,1668.8 812,1700 818,1717.5 825,1735.1 831,1747.5 834,1752.8 838,1759 841,1763.1 845,1767.9 849,1772 853,1775.5 857,1778.5 862,1781.6 869,1785.3 876,1788.3 884,1791.1 894,1794.1 905,1796.8 918,1799.7 946,1804.5 972,1808 998,1810.5 1043,1813.5 1090,1815.9" fill="none" stroke="#4d9a12" stroke-width="2.5" stroke-linejoin="round" stroke-linecap="round"/>
<polyline points="110,1681.9 172,1688.9 242,1698.1 279,1703.4 356,1715.5 385,1719.6 418,1723.3 445,1725.4 460,1726 474,1725.9 487,1725.2 499,1723.9 510,1722.1 521,1719.6 531,1716.7 551,1710.4 560,1708 565,1707.2 570,1706.7 575,1706.6 579,1707 584,1707.8 590,1709.5 595,1711.3 601,1714 611,1719.3 639,1736.1 654,1744.3 672,1752.9 690,1760.1 712,1767.3 737,1774 766,1780.4 799,1786.6 840,1793.1 907,1802.3 949,1807.3 985,1810.6 1041,1814 1099,1816.5 1142,1817.7 1222,1818.9" fill="none" stroke="#df22ee" stroke-width="4.8" stroke-linejoin="round" stroke-linecap="round"/>
<polyline points="831,1794.8 849,1795.8 857,1795.8 865,1795.4 872,1794.6 879,1793.4 885,1791.9 891,1790 897,1787.7 902,1785.4 908,1782.2 914,1778.5 924,1771.6 948,1753.6 954,1749.5 960,1746 966,1743.2 972,1741.2 978,1740.2 984,1740.1 991,1741.1 998,1743.2 1005,1746.3 1012,1750.3 1018,1754.3 1025,1759.4 1051,1780.6 1063,1789.7 1076,1798.2 1088,1804.4 1095,1807.4 1102,1809.9 1110,1812.2 1118,1814 1126,1815.4 1135,1816.5 1156,1818.1" fill="none" stroke="#df22ee" stroke-width="4.8" stroke-linejoin="round" stroke-linecap="round"/>
<polyline points="419,1730.1 477,1739.7 517,1745.6 549,1749.1 564,1750.2 577,1750.7 587,1750.7 597,1750.4 606,1749.7 614,1748.7 623,1747.1 631,1745.2 654,1738.2 662,1736.2 670,1735.3 674,1735.3 678,1735.8 684,1737 690,1738.8 696,1741 703,1744.2 715,1750.7 746,1769 755,1773.8 764,1778 773,1781.6 782,1784.7 792,1787.6 803,1790.2" fill="none" stroke="#5ef50c" stroke-width="4.8" stroke-linejoin="round" stroke-linecap="round"/>
<polyline points="984,1810.3 993,1809.5 1002,1807.6 1010,1804.9 1018,1801 1025,1796.6 1033,1790.3 1040,1783.9 1056,1768.4 1065,1760.8 1070,1757.6 1075,1755.2 1080,1753.8 1084,1753.5 1089,1754.1 1094,1755.7 1099,1758.2 1104,1761.5 1109,1765.4 1114,1769.9 1131,1786.6 1139,1794 1147,1800.5 1155,1805.8 1163,1810 1172,1813.5 1181,1815.8 1191,1817.5" fill="none" stroke="#5ef50c" stroke-width="4.8" stroke-linejoin="round" stroke-linecap="round"/>
<polyline points="584,1758.8 623,1763.3 638,1764.5 650,1765.1 660,1765 668,1764.2 674,1762.9 680,1760.6 684,1758.4 688,1755.3 692,1751.3 696,1746.2 700,1740 704,1732.6 708,1724.2 717,1704 721,1696.3 723,1693.3 725,1691.2 727,1690 729,1689.8 730,1690.2 732,1692 735,1697.2 738,1704.4 749,1734.3 753,1743.3 757,1750.9 761,1757.2 766,1763.5 771,1768.5 777,1773.1 784,1777.3 793,1781.4 803,1784.8 815,1788.1 828,1791 843,1793.8 889,1800.8" fill="none" stroke="#f70a3c" stroke-width="4.8" stroke-linejoin="round" stroke-linecap="round"/>
<polyline points="995,1811.1 1015,1811.6 1033,1811.7 1048,1811.3 1059,1810.4 1067,1809.3 1074,1807.4 1080,1804.7 1085,1801.1 1089,1797 1093,1791.5 1097,1784.4 1100,1777.9 1103,1770.2 1107,1758.5 1119,1717.2 1123,1705.1 1125,1700.4 1127,1696.9 1129,1694.7 1130,1694.2 1131,1694.1 1133,1694.8 1135,1696.7 1137,1699.6 1140,1705.8 1145,1719.8 1157,1759.5 1163,1777 1166,1784.4 1169,1790.8 1172,1796.2 1176,1802.1 1180,1806.5 1184,1809.7 1188,1812 1193,1814 1199,1815.5 1206,1816.5 1229,1818" fill="none" stroke="#f70a3c" stroke-width="4.8" stroke-linejoin="round" stroke-linecap="round"/>
<polyline points="110,1680.3 113,1680.8 124,1681.2 129,1682.2 136,1683.1 140,1682.9 146,1683.4 150,1683 153,1683.1 160,1684.9 167,1685.8 173,1687.4 179,1687.4 183,1687.9 189,1687.4 197,1689.8 203,1689.6 209,1691.1 212,1691.5 219,1691.3 224,1692.2 229,1692.6 237,1694.4 240,1694.8 246,1694.5 251,1695.7 257,1695.4 266,1697 274,1697.4 282,1696.2 292,1695.9 294,1696.3 299,1698.4 311,1699.9 313,1699.8 318,1698.4 322,1699 324,1698.8 328,1697.1 334,1695 340,1692 344,1690.8 346,1689.1 350,1683.6 355,1677.8 359,1671.2 364,1661.6 376,1632.6 380,1624.5 384,1617.6 386,1615.1 388,1613.7 390,1613.5 392,1614.2 393,1615.1 394,1616.4 396,1620.3 401,1633.2 413,1666.6 418,1677 423,1685.5 431,1695.2 440,1703.3 443,1705 448,1706.9 453,1710.1 457,1711.8 460,1712.6 463,1713 467,1714.3 469,1714.7 477,1715 482,1714.2 484,1714.2 490,1714.6 493,1715.1 497,1716.2 500,1716.2 508,1714.1 513,1712.1 519,1710.8 524,1708.7 530,1705.2 536,1704.3 542,1701.7 547,1701.2 549,1700.8 555,1697.4 562,1696.1 572,1692.4 574,1692.7 577,1693.8 582,1693.8 587,1695.2 592,1695.8 594,1695.8 599,1694.8 602,1695 605,1695.7 613,1698.5 621,1699.6 627,1701.4 632,1702 637,1703 646,1702.5 652,1700.6 654,1700.8 658,1701.8 665,1700 672,1700.8 674,1700.8 676,1700.2 679,1698.6 685,1696.4 688,1693.8 696,1685.6 702,1678.3 705,1674 719,1647.9 721,1644.6 724,1641.2 727,1639.4 729,1639.2 730,1639.6 732,1641.2 733,1642.5 736,1648.3 745,1669.4 747,1673 749,1675.9 753,1679.7 755,1680.8 757,1680.7 760,1679.2 762,1677.2 764,1674.4 766,1670.6 768,1665.8 771,1656.6 778,1631.9 781,1623.5 783,1619.8 784,1618.7 785,1618.2 786,1618.2 788,1619.7 790,1621.9 792,1625.4 794,1630.1 799,1644.3 811,1684.6 822,1718.2 827,1730 835,1745 843,1756.3 845,1758.6 851,1762.9 859,1770.6 861,1771.6 865,1773 869,1775.8 871,1776.8 880,1777.6 886,1776.4 895,1775.7 897,1775.1 902,1772.6 907,1771.2 909,1770.4 917,1765.5 923,1762.4 929,1757.2 937,1752.8 942,1748.8 945,1747.3 953,1744 965,1735.6 968,1734.3 975,1732.6 979,1732.4 987,1731.5 994,1732.2 1001,1730.8 1004,1731.2 1008,1732.5 1013,1732.8 1018,1734.6 1023,1734.4 1028,1735.2 1030,1734.9 1036,1733.1 1038,1733.1 1042,1733.6 1044,1732.9 1047,1731.3 1053,1729.6 1061,1726.7 1068,1725.8 1074,1724.2 1078,1722.6 1083,1719.8 1090,1717.3 1092,1716 1095,1713 1100,1706.7 1103,1702.2 1111,1687 1119,1666.3 1122,1659.7 1125,1655.3 1127,1653.8 1128,1653.6 1129,1653.8 1130,1654.4 1132,1657.1 1136,1665.9 1139,1674.5 1145,1696 1153,1729.4 1159,1752.6 1163,1765.7 1168,1779.7 1171,1787.4 1174,1793.2 1179,1800 1183,1803.3 1192,1807.8 1199,1811.8 1204,1813.3 1210,1815.5 1216,1816.2 1218,1815.9 1221,1815 1223,1814.8 1236,1817.8 1240,1818 1244,1818.8 1246,1818.8 1251,1817.8 1257,1817.5 1264,1817.6 1272,1816.6 1274,1816.8 1278,1817.7 1284,1816.9 1289,1817.9 1291,1818.1 1297,1816.8 1299,1816.7 1302,1817.2 1307,1817.3 1312,1819.2 1314,1819.2 1317,1818.4 1319,1818.3 1330,1820.1 1336,1819.6 1340,1819.6 1345,1818.7 1351,1819.6 1359,1818.7 1365,1816.9 1367,1816.6 1378,1817.8 1383,1818.7 1388,1818.8 1393,1819.7" fill="none" stroke="#111" stroke-width="4" stroke-linejoin="round" stroke-linecap="round"/>
<polyline points="110,1680.7 155,1685.3 242,1694.9 282,1698.8 298,1699.8 310,1700.1 320,1699.6 328,1698.4 335,1696.2 339,1694.2 342,1692.4 345,1690.1 348,1687.3 353,1681.5 358,1674 363,1664.7 368,1653.9 378,1630.1 382,1622 384,1618.8 386,1616.4 388,1615 390,1614.5 391,1614.7 393,1616.2 395,1619 397,1622.9 400,1630.4 409,1656.1 413,1666.3 418,1676.9 423,1685.4 426,1689.6 430,1694.4 433,1697.4 437,1700.8 441,1703.6 445,1705.9 450,1708.3 455,1710.3 460,1711.8 466,1713.2 478,1714.8 491,1715 504,1713.9 515,1711.8 526,1708.9 536,1705.5 555,1698.4 563,1695.9 571,1694.1 578,1693.4 586,1693.5 594,1694.5 620,1700.2 630,1701.8 640,1702.4 651,1701.9 670,1699.5 679,1697.9 683,1696.7 686,1695.4 689,1693.6 692,1691.4 695,1688.6 698,1685.2 703,1678.1 708,1669.5 718,1650 721,1645.1 724,1641.5 726,1640 727,1639.7 729,1639.6 730,1640 732,1641.8 734,1644.8 737,1650.9 745,1669.3 748,1674.8 750,1677.6 753,1680.4 755,1681.3 757,1681.4 759,1680.5 761,1678.8 763,1676.2 765,1672.6 767,1668.1 770,1659.9 778,1633 781,1624.5 783,1620.8 784,1619.7 785,1619.2 786,1619.3 788,1620.9 790,1623.5 792,1627 795,1633.8 800,1648.2 813,1691.5 820,1712.5 824,1722.9 828,1732.2 832,1740.3 836,1747.2 841,1754.5 846,1760.4 851,1765.1 857,1769.4 863,1772.5 870,1774.9 877,1776.2 884,1776.5 890,1776 897,1774.6 904,1772.4 911,1769.4 917,1766.2 924,1762 946,1746.9 955,1741.3 964,1736.6 972,1733.7 980,1732.2 988,1731.9 996,1732.4 1019,1735.1 1026,1735.2 1033,1734.8 1039,1733.8 1045,1732.3 1065,1726.3 1082,1722.1 1087,1720.3 1091,1718 1094,1715.5 1098,1711.2 1101,1707 1104,1701.9 1108,1693.8 1118,1670.1 1121,1663.8 1123,1660.4 1125,1657.9 1127,1656.5 1128,1656.4 1130,1657.1 1131,1658.1 1133,1660.9 1136,1667.1 1139,1675.6 1144,1693.2 1158,1749 1163,1765.9 1167,1777.3 1171,1786.7 1176,1795.8 1181,1802.3 1184,1805.3 1187,1807.6 1193,1810.9 1197,1812.3 1201,1813.4 1211,1815 1224,1816.2 1246,1817.2 1277,1818.1 1364,1819.3" fill="none" stroke="#1622f2" stroke-width="6.2" stroke-linejoin="round" stroke-linecap="round"/>
<polyline points="110,1678.6 112,1678.2 115,1679.4 117,1678.8 118,1678.8 123,1680.4 125,1682.1 126,1682.7 127,1682.8 130,1681.5 132,1681.3 135,1682.1 140,1683.1 141,1682.9 145,1680.9 147,1680.6 149,1681.4 152,1683.4 153,1683.7 156,1683 159,1682.8 160,1683.2 163,1685 164,1685 167,1683.8 168,1683.9 169,1684.6 172,1687.5 173,1688 174,1688.1 177,1686.9 179,1687 182,1687.9 185,1687.4 186,1687.6 190,1690.2 191,1690.6 192,1690.4 195,1688.1 196,1688.2 198,1689.3 199,1689.5 202,1688.6 203,1688.8 209,1691.4 210,1691.5 213,1690.6 214,1690.7 217,1692.1 219,1692.7 226,1693.6 229,1693 230,1693.1 233,1694.7 234,1694.7 238,1692.6 242,1692.4 246,1691.3 247,1691.8 250,1694.7 251,1695.3 254,1695.4 258,1696.4 262,1695.9 266,1697.9 270,1697.1 275,1697.5 278,1697.1 281,1697.3 284,1696.9 287,1698.7 288,1698.9 291,1697.8 295,1698.5 299,1698.3 302,1698.6 309,1697.8 310,1697.9 312,1698.9 313,1699 316,1698.1 320,1697.9 323,1698.4 325,1697.7" fill="none" stroke="#0a0a14" stroke-width="3.1500000000000004" stroke-linejoin="round" stroke-linecap="round" stroke-opacity="0.9"/>
<polyline points="445,1703.7 447,1704.1 451,1706.7 455,1707.6 458,1709.2 461,1710.2 464,1712.3 465,1712.4 468,1711.8 471,1712.4 481,1712.8 482,1712.9 485,1714.5 486,1714.7 488,1714.5 490,1714.7 493,1714.2 494,1714.3 497,1715.4 499,1715.4 500,1715.2 503,1712.9 504,1712.6 507,1713.3 512,1712.2 515,1710.4 519,1709.1 523,1706.9 526,1706.9 529,1706.1 531,1706 534,1705 537,1704.4 541,1702.9 545,1702.7 548,1701.5 552,1699 556,1698.7 560,1696.3" fill="none" stroke="#0a0a14" stroke-width="2.2" stroke-linejoin="round" stroke-linecap="round" stroke-opacity="0.9"/>
<polyline points="1340,1817.6 1343,1817.4 1346,1817.8 1350,1816.7 1354,1817 1357,1818 1361,1817.2 1364,1817.9 1367,1817.6 1370,1819.2 1371,1819.5 1374,1819 1384,1819.6 1388,1820.5 1389,1820.4 1392,1818.5 1393,1818.2" fill="none" stroke="#0a0a14" stroke-width="2.6" stroke-linejoin="round" stroke-linecap="round" stroke-opacity="0.9"/>
<polyline points="1304,1821.2 1309,1820.2 1313,1820.6 1315,1822.6 1316,1823.1 1317,1823 1318,1822.3 1320,1820.4 1322,1821.3 1326,1820.5 1329,1821.8 1330,1821.9 1332,1820.6 1334,1822.7 1336,1823.4 1340,1823.1 1344,1821.1 1346,1820.7 1347,1820.8 1350,1822 1351,1822 1354,1821.3 1357,1821.3 1358,1821 1359,1821.1 1361,1821.9 1362,1821.9 1364,1821 1370,1822.4 1371,1822.2 1373,1821 1375,1821 1376,1821.2 1378,1822.5 1380,1822.8 1382,1822.5 1385,1821.1 1387,1820.9 1391,1822.2 1393,1822.2" fill="none" stroke="#080808" stroke-width="5" stroke-linejoin="round" stroke-linecap="round"/>
<polyline points="110,1916.5 147,1921.2 186,1926.6 227,1932.9 265,1939.2 302,1946.1 389,1963.6 514,1987.8 587,2001 653,2012.1 697,2018.9 742,2025.2 858,2039.9 952,2052.2 987,2055.9 1031,2059.1 1081,2062.3 1123,2064.1 1150,2064.8 1248,2065.9 1393,2066.6" fill="none" stroke="#eef7b0" stroke-width="7" stroke-linejoin="round" stroke-linecap="round" stroke-opacity="0.8"/>
<polyline points="110,1912.5 147,1917.2 186,1922.6 227,1928.9 265,1935.2 302,1942.1 389,1959.6 514,1983.8 587,1997 653,2008.1 697,2014.9 742,2021.2 858,2035.9 952,2048.2 987,2051.9 1031,2055.1 1081,2058.3 1123,2060.1 1150,2060.8 1248,2061.9 1393,2062.6" fill="none" stroke="#202010" stroke-width="3" stroke-linejoin="round" stroke-linecap="round"/>
<polyline points="177,1921.6 259,1932.5 280,1935.1 295,1936.5 308,1937.3 318,1937.2 327,1936.3 334,1934.5 340,1931.8 343,1930 346,1927.7 351,1922.6 356,1915.9 360,1909.1 365,1898.9 370,1886.7 379,1863 383,1854.1 385,1850.7 387,1848.4 389,1847.1 391,1847.2 392,1847.8 394,1850.5 397,1857.5 400,1867 410,1901.6 414,1913.1 419,1924.8 424,1933.9 430,1942.4 433,1945.9 437,1949.9 444,1955.6 453,1961.2 464,1966.5 478,1971.8 494,1976.7 514,1981.9 537,1987.1 566,1993 601,1999.7" fill="none" stroke="#f0f030" stroke-width="3" stroke-linejoin="round" stroke-linecap="round"/>
<polyline points="177,1920.1 259,1931 280,1933.6 295,1935 308,1935.8 318,1935.7 327,1934.8 334,1933 340,1930.3 343,1928.5 346,1926.2 351,1921.1 356,1914.4 360,1907.6 365,1897.4 370,1885.2 379,1861.5 383,1852.6 385,1849.2 387,1846.9 389,1845.6 391,1845.7 392,1846.3 394,1849 397,1856 400,1865.5 410,1900.1 414,1911.6 419,1923.3 424,1932.4 430,1940.9 433,1944.4 437,1948.4 444,1954.1 453,1959.7 464,1965 478,1970.3 494,1975.2 514,1980.4 537,1985.6 566,1991.5 601,1998.2" fill="none" stroke="#1a1a00" stroke-width="2.5" stroke-linejoin="round" stroke-linecap="round"/>
<polyline points="546,1990 590,1997.2 624,2002.2 652,2005.7 675,2007.8 694,2008.5 702,2008.4 709,2007.9 715,2007.1 720,2006 725,2004.4 729,2002.5 733,2000.1 736,1997.7 739,1994.8 742,1991.2 745,1986.9 748,1981.7 753,1971 758,1957.5 763,1941 767,1926 776,1889.9 780,1875.6 783,1867.3 785,1863.3 787,1860.8 788,1860.2 789,1860.1 790,1860.3 791,1861 793,1863.5 795,1867.5 798,1875.8 802,1890.1 812,1931 817,1949.9 822,1966.4 827,1980.2 830,1987.2 833,1993.3 836,1998.7 839,2003.3 842,2007.4 846,2011.9 849,2014.7 853,2017.9 858,2021.3 864,2024.5 871,2027.6 879,2030.5 888,2033.3 899,2036.3 924,2041.8 952,2046.6 980,2050.4 1007,2053.1 1053,2056.9" fill="none" stroke="#f0f030" stroke-width="3" stroke-linejoin="round" stroke-linecap="round"/>
<polyline points="546,1988.5 590,1995.7 624,2000.7 652,2004.2 675,2006.3 694,2007 702,2006.9 709,2006.4 715,2005.6 720,2004.5 725,2002.9 729,2001 733,1998.6 736,1996.2 739,1993.3 742,1989.7 745,1985.4 748,1980.2 753,1969.5 758,1956 763,1939.5 767,1924.5 776,1888.4 780,1874.1 783,1865.8 785,1861.8 787,1859.3 788,1858.7 789,1858.6 790,1858.8 791,1859.5 793,1862 795,1866 798,1874.3 802,1888.6 812,1929.5 817,1948.4 822,1964.9 827,1978.7 830,1985.7 833,1991.8 836,1997.2 839,2001.8 842,2005.9 846,2010.4 849,2013.2 853,2016.4 858,2019.8 864,2023 871,2026.1 879,2029 888,2031.8 899,2034.8 924,2040.3 952,2045.1 980,2048.9 1007,2051.6 1053,2055.4" fill="none" stroke="#4d9a12" stroke-width="2.5" stroke-linejoin="round" stroke-linecap="round"/>
<polyline points="110,1911.1 171,1918.7 239,1928.3 277,1934.1 352,1946.8 381,1951.2 413,1955 442,1957.4 458,1958 472,1957.9 485,1957.2 497,1955.9 509,1953.8 520,1951.2 530,1948.3 552,1941.3 561,1938.9 566,1938 571,1937.5 576,1937.5 581,1937.9 587,1939.1 594,1941.3 601,1944.2 608,1947.7 621,1955.4 648,1973.2 661,1981.4 675,1989.4 688,1996 701,2001.7 715,2006.8 730,2011.4 746,2015.5 772,2020.8 805,2026.3 914,2042 953,2047.2 978,2050 1000,2052 1056,2056.1 1100,2058.6" fill="none" stroke="#df22ee" stroke-width="4.8" stroke-linejoin="round" stroke-linecap="round"/>
<polyline points="614,2001 657,2008 696,2013.8 734,2018.9 774,2023.6 808,2027.2 833,2029.2 851,2029.8 867,2029.3 877,2028.2 887,2026.1 896,2023.3 905,2019.5 914,2014.6 923,2008.8 932,2002.1 953,1985.5 963,1978.8 969,1975.8 974,1974 980,1973 985,1973.2 991,1974.3 998,1976.6 1005,1980 1012,1984.3 1018,1988.7 1025,1994.3 1052,2018.4 1064,2028.4 1077,2037.7 1083,2041.4 1090,2045.1 1097,2048.4 1105,2051.4 1113,2053.9 1121,2055.9 1130,2057.5 1139,2058.7 1160,2060.3" fill="none" stroke="#df22ee" stroke-width="4.8" stroke-linejoin="round" stroke-linecap="round"/>
<polyline points="409,1961.9 477,1974 522,1981.1 542,1983.7 560,1985.5 576,1986.7 590,1987.2 601,1987 611,1986.4 620,1985.4 629,1983.7 637,1981.7 645,1979 653,1975.9 668,1969.3 675,1966.8 679,1965.7 683,1965.1 687,1965.1 690,1965.4 693,1966 697,1967.5 704,1971.7 710,1976.2 730,1992.6 737,1997.7 744,2002.2 750,2005.6 757,2009.1 764,2012.2 772,2015.2 781,2018 792,2021 817,2026.3 846,2031.4 909,2041.2" fill="none" stroke="#5ef50c" stroke-width="4.8" stroke-linejoin="round" stroke-linecap="round"/>
<polyline points="982,2049.7 992,2048.8 1001,2046.8 1009,2043.7 1017,2039.3 1024,2034.1 1032,2026.7 1039,2019.3 1055,2001.2 1060,1996.1 1064,1992.5 1069,1988.8 1073,1986.7 1078,1985.1 1082,1984.8 1088,1985.6 1094,1987.5 1100,1990.2 1107,1994.6 1113,1999 1119,2004 1141,2024 1151,2032.5 1161,2039.9 1171,2046.1 1182,2051.3 1193,2055.1 1205,2058 1219,2059.9" fill="none" stroke="#5ef50c" stroke-width="4.8" stroke-linejoin="round" stroke-linecap="round"/>
<polyline points="565,1991.5 591,1995.4 612,1998.2 629,2000 644,2001.1 656,2001.2 666,2000.6 675,1999 682,1996.6 687,1993.9 692,1990.1 697,1984.8 701,1979.3 706,1970.4 710,1961.7 721,1932.9 724,1926 726,1922.4 728,1919.9 730,1918.7 731,1918.6 732,1919.1 733,1920.2 734,1921.9 736,1926.8 738,1933.3 747,1966.4 750,1975.6 753,1983.4 757,1991.7 761,1998.2 765,2003.3 770,2008.2 776,2012.7 783,2016.5 791,2019.8 801,2023 813,2026 827,2028.9 867,2035.5" fill="none" stroke="#f70a3c" stroke-width="4.8" stroke-linejoin="round" stroke-linecap="round"/>
<polyline points="1050,2054.8 1058,2054.8 1064,2054.4 1069,2053.6 1074,2052.1 1078,2050.1 1081,2047.9 1085,2043.9 1088,2039.9 1091,2035 1094,2028.9 1097,2021.8 1100,2013.5 1105,1997.7 1115,1962.9 1120,1948 1123,1941.3 1125,1938 1127,1935.9 1128,1935.3 1130,1935.1 1132,1935.9 1134,1937.9 1136,1940.8 1139,1947 1144,1960.5 1156,1999.1 1163,2018.9 1167,2028.1 1170,2034 1173,2039 1177,2044.4 1181,2048.5 1185,2051.6 1190,2054.2 1196,2056.3 1203,2057.7 1211,2058.6 1239,2060.2" fill="none" stroke="#f70a3c" stroke-width="4.8" stroke-linejoin="round" stroke-linecap="round"/>
<polyline points="110,1909 115,1910 117,1910.1 119,1909.6 122,1908 124,1907.7 125,1908 130,1911 134,1912.4 136,1912.4 139,1911.8 141,1911.8 150,1913.4 156,1915.2 168,1913.5 171,1913.5 175,1914.5 179,1915.1 185,1917.5 188,1918.3 190,1918.4 193,1918.2 199,1919.4 203,1919.3 208,1919.5 214,1920.7 218,1920 220,1920.1 225,1922.1 228,1923 238,1924.5 244,1926.4 246,1926.7 257,1926.9 263,1927.5 271,1926.6 278,1928.3 283,1928.2 288,1928.7 293,1928.3 300,1929.7 305,1928.5 312,1928.5 316,1929 321,1929.2 325,1928.7 330,1926.9 336,1925.4 343,1921.4 345,1920 347,1918.1 353,1910.5 357,1904 364,1890.8 372,1871.3 379,1851.3 383,1842.2 385,1838.4 387,1835.7 389,1833.8 390,1833.3 391,1833.2 392,1833.6 393,1834.6 394,1836.3 396,1841.1 408,1881.9 411,1891.3 416,1903.9 422,1916.2 424,1919.3 428,1924.1 437,1933.4 439,1934.9 444,1937.3 451,1942.1 454,1943.6 457,1944.2 462,1943.6 464,1943.7 469,1945.6 471,1946 480,1945.4 491,1946.5 499,1944.8 510,1941.2 512,1941.1 516,1941.9 518,1942 520,1941.5 524,1939.4 530,1937.3 536,1936.4 545,1931.6 547,1930.9 550,1930.6 552,1930 560,1925.4 562,1924.8 567,1924.1 572,1922.2 576,1921.6 578,1921.7 583,1923.2 589,1922.8 594,1924.3 600,1924.8 605,1926.3 609,1926.4 611,1926.7 615,1928 624,1930.4 629,1931.3 631,1932.1 635,1934.1 638,1935.1 648,1935.4 650,1934.8 655,1932 659,1930.3 666,1929.1 670,1926.8 675,1924.9 680,1921.9 683,1921.6 685,1920.9 692,1916.6 696,1913.5 702,1910.4 703,1909.4 705,1906.5 711,1895.2 720,1874.9 723,1869.1 726,1864.8 728,1862.9 729,1862.4 731,1862.2 732,1862.7 733,1863.8 735,1867.4 737,1872.5 744,1893 747,1900.3 749,1904.2 751,1906.7 752,1907.2 754,1907.2 756,1906.1 758,1904.4 761,1900.4 763,1896.8 765,1892.3 770,1878.7 778,1853.8 781,1846.3 783,1842.6 785,1840.2 787,1838.8 788,1838.6 789,1838.7 791,1840 793,1842.8 795,1847.1 797,1852.8 803,1875.8 811,1910.2 817,1933.4 822,1949.9 830,1971 834,1979.5 841,1990.5 844,1994.6 849,2000.4 851,2002.4 855,2004.6 860,2008.1 864,2009 868,2010.6 874,2012.3 876,2012.5 880,2012.2 887,2012.9 891,2014 893,2013.9 895,2013.3 899,2011 905,2009.3 910,2006.4 916,2004.3 923,1998.9 930,1994.9 937,1988.7 944,1984.8 952,1978.5 954,1977.5 959,1975.8 966,1970.2 971,1967.5 974,1966.3 976,1965.8 982,1965.1 986,1965 992,1966.1 999,1968.5 1001,1968.7 1005,1968.3 1009,1968.7 1013,1967.8 1020,1968.3 1031,1967.6 1040,1966.2 1044,1964.2 1049,1962.6 1055,1959.9 1060,1956.9 1062,1956.1 1066,1955.7 1071,1956.7 1073,1956.8 1075,1956.2 1080,1953.5 1085,1952 1088,1949.8 1091,1946.5 1094,1942.4 1098,1935.8 1102,1928.2 1105,1921.7 1114,1898.8 1118,1889.9 1120,1886.5 1122,1883.7 1124,1882 1126,1881.4 1127,1881.6 1129,1883 1132,1886.9 1135,1893.5 1138,1901.9 1141,1911.9 1146,1930.3 1154,1964.5 1160,1986.7 1164,1999.7 1169,2012.8 1174,2023.6 1180,2033.1 1186,2040.4 1194,2047.4 1204,2052.4 1210,2053.9 1216,2054.5 1220,2057 1222,2057.5 1226,2057 1234,2058.1 1240,2058 1246,2058.5 1250,2057.8 1256,2057.6 1261,2056.8 1267,2059 1274,2060.6 1276,2060.7 1278,2060.4 1282,2059.1 1286,2058.4 1290,2057.2 1293,2056.9 1302,2059 1308,2059 1312,2059.6 1316,2059.7 1322,2061 1325,2061.2 1333,2061.4 1340,2060.6 1344,2061 1351,2059.8 1361,2060.7 1366,2060.8 1374,2062.9 1376,2063.2 1381,2062.1 1385,2061.9 1390,2060.7 1393,2061" fill="none" stroke="#111" stroke-width="4" stroke-linejoin="round" stroke-linecap="round"/>
<polyline points="110,1909.6 152,1914.3 238,1924.6 280,1928.9 297,1930 310,1930.2 320,1929.6 329,1928 336,1925.6 340,1923.5 343,1921.5 346,1919 349,1916.1 352,1912.5 355,1908.3 360,1899.8 365,1889.2 370,1876.8 379,1852.4 382,1845.3 384,1841.4 386,1838.3 388,1836.3 390,1835.6 391,1835.7 392,1836.2 393,1837.2 394,1838.7 396,1842.9 399,1851.4 407,1878.8 412,1894.1 417,1906.4 422,1915.9 425,1920.5 428,1924.4 431,1927.8 435,1931.6 439,1934.7 443,1937.2 447,1939.3 452,1941.4 457,1943.1 463,1944.6 469,1945.6 475,1946.3 481,1946.6 488,1946.6 495,1946.2 502,1945.4 513,1943.3 525,1940 535,1936.6 555,1929 564,1926 572,1924.2 580,1923.4 588,1923.6 597,1924.7 605,1926.3 623,1930.5 632,1932.1 641,1932.9 649,1932.6 655,1931.7 661,1930.2 667,1928.3 674,1925.6 682,1922.1 688,1919.1 694,1915.3 698,1912.3 703,1907.3 708,1900.6 713,1891.7 721,1874.6 724,1868.8 727,1864.6 729,1863 730,1862.7 731,1862.7 732,1863.1 733,1864.1 735,1867.6 737,1872.7 744,1893.7 746,1898.6 748,1902.4 750,1905.1 752,1906.7 754,1907.3 755,1907.1 757,1906 759,1904 761,1901.1 765,1892.7 769,1881.9 777,1856.7 781,1845.7 783,1841.6 785,1838.6 787,1837.1 788,1836.9 789,1837.2 790,1837.8 792,1840.3 794,1844.3 797,1852.7 801,1867.3 812,1914.3 818,1937.6 824,1957.1 830,1972.6 833,1979 837,1986.1 841,1992 845,1996.8 849,2000.6 854,2004.4 859,2007.2 864,2009.3 869,2010.9 874,2011.9 879,2012.5 885,2012.7 890,2012.3 896,2011.4 901,2010.2 907,2008.2 916,2004.1 926,1998.3 935,1992.2 953,1978.9 961,1973.6 969,1969.4 976,1967 981,1966.1 987,1965.9 995,1966.4 1016,1968.5 1023,1968.5 1029,1968 1039,1965.9 1060,1959 1078,1954.8 1084,1952.7 1087,1950.8 1090,1948.1 1093,1944.6 1096,1940.1 1099,1934.7 1103,1926.1 1114,1898.5 1118,1889.9 1120,1886.4 1122,1883.8 1124,1882.1 1126,1881.5 1128,1882.1 1129,1882.8 1132,1886.8 1135,1893.2 1138,1901.6 1143,1919.3 1154,1964.1 1159,1983.3 1164,2000.1 1169,2014 1174,2025.2 1177,2030.6 1180,2035.1 1183,2039 1186,2042.2 1192,2047 1196,2049.3 1200,2051.2 1205,2053 1210,2054.4 1223,2056.8 1240,2058.5 1262,2059.6 1293,2060.5 1339,2061.1 1393,2061.5" fill="none" stroke="#1622f2" stroke-width="6.2" stroke-linejoin="round" stroke-linecap="round"/>
<polyline points="110,1908.8 112,1908.4 113,1908.8 116,1910.6 119,1909.7 123,1911 126,1911.4 135,1910.4 136,1910.7 139,1912.4 140,1912.6 143,1911.8 146,1912.6 153,1912.3 154,1912.8 156,1914.8 158,1915.5 162,1914.8 167,1916.1 171,1915.6 175,1916.9 179,1916.4 183,1916.6 186,1917.7 190,1919.7 191,1919.8 194,1918.6 201,1918.8 205,1920.1 208,1919.9 211,1920.8 214,1920.1 218,1921.4 221,1920.8 225,1920.9 229,1922.2 235,1921.7 236,1921.8 240,1923.1 244,1923.4 247,1923.2 251,1923.3 255,1924.9 258,1923.5 259,1923.5 262,1926.3 263,1926.5 266,1925.9 273,1928.8 274,1928.8 276,1927.6 277,1927.4 280,1928.5 283,1928.2 286,1929.1 295,1931 302,1930.6 307,1928.7 310,1928.4 314,1926.1 315,1926 316,1926.3 319,1928.4 320,1928.5 323,1927.5 325,1927.4" fill="none" stroke="#0a0a14" stroke-width="2.52" stroke-linejoin="round" stroke-linecap="round" stroke-opacity="0.9"/>
<polyline points="445,1937.4 448,1939.5 453,1941.2 455,1942.2 459,1942.4 463,1944.6 464,1944.7 467,1943.9 472,1943.7 474,1944.3 477,1946.1 478,1946.1 481,1945.3 482,1945.3 486,1946.3 490,1944.6 491,1944.7 495,1946.5 499,1945.7 501,1946 504,1946 506,1945.3 509,1943.1 512,1941.9 515,1939.9 516,1939.7 520,1939.6 523,1939.9 524,1939.8 527,1938.3 530,1938.1 531,1937.8 536,1934.5 540,1933.5 543,1932.3 549,1931.6 553,1929.2 560,1926.5" fill="none" stroke="#0a0a14" stroke-width="2.2" stroke-linejoin="round" stroke-linecap="round" stroke-opacity="0.9"/>
<circle cx="700.6" cy="187.7" r="1.6" fill="#1a1a1a"/><circle cx="700.6" cy="207.2" r="1.6" fill="#1a1a1a"/><circle cx="700.6" cy="226.7" r="1.6" fill="#1a1a1a"/><circle cx="700.6" cy="246.1" r="1.6" fill="#1a1a1a"/><circle cx="700.6" cy="265.6" r="1.6" fill="#1a1a1a"/><circle cx="700.6" cy="285.1" r="1.6" fill="#1a1a1a"/><circle cx="700.6" cy="304.6" r="1.6" fill="#1a1a1a"/><circle cx="700.6" cy="324.1" r="1.6" fill="#1a1a1a"/><circle cx="700.6" cy="343.5" r="1.6" fill="#1a1a1a"/><circle cx="700.6" cy="363.0" r="1.6" fill="#1a1a1a"/><circle cx="700.6" cy="382.5" r="1.6" fill="#1a1a1a"/><circle cx="700.6" cy="402.0" r="1.6" fill="#1a1a1a"/><circle cx="700.6" cy="421.5" r="1.6" fill="#1a1a1a"/><circle cx="700.6" cy="440.9" r="1.6" fill="#1a1a1a"/><circle cx="700.6" cy="460.4" r="1.6" fill="#1a1a1a"/><circle cx="700.6" cy="479.9" r="1.6" fill="#1a1a1a"/><circle cx="700.6" cy="499.4" r="1.6" fill="#1a1a1a"/><circle cx="700.6" cy="518.9" r="1.6" fill="#1a1a1a"/><circle cx="700.6" cy="538.3" r="1.6" fill="#1a1a1a"/><circle cx="700.6" cy="557.8" r="1.6" fill="#1a1a1a"/><circle cx="700.6" cy="577.3" r="1.6" fill="#1a1a1a"/><circle cx="700.6" cy="596.8" r="1.6" fill="#1a1a1a"/><circle cx="700.6" cy="616.3" r="1.6" fill="#1a1a1a"/><circle cx="700.6" cy="635.7" r="1.6" fill="#1a1a1a"/><circle cx="700.6" cy="655.2" r="1.6" fill="#1a1a1a"/><circle cx="700.6" cy="674.7" r="1.6" fill="#1a1a1a"/><circle cx="700.6" cy="694.2" r="1.6" fill="#1a1a1a"/><circle cx="700.6" cy="713.7" r="1.6" fill="#1a1a1a"/><circle cx="700.6" cy="733.1" r="1.6" fill="#1a1a1a"/><circle cx="700.6" cy="752.6" r="1.6" fill="#1a1a1a"/><circle cx="700.6" cy="772.1" r="1.6" fill="#1a1a1a"/><circle cx="700.6" cy="791.6" r="1.6" fill="#1a1a1a"/><circle cx="700.6" cy="811.1" r="1.6" fill="#1a1a1a"/><circle cx="700.6" cy="830.5" r="1.6" fill="#1a1a1a"/><circle cx="700.6" cy="850.0" r="1.6" fill="#1a1a1a"/><circle cx="700.6" cy="869.5" r="1.6" fill="#1a1a1a"/><circle cx="700.6" cy="889.0" r="1.6" fill="#1a1a1a"/><circle cx="700.6" cy="908.5" r="1.6" fill="#1a1a1a"/><circle cx="700.6" cy="927.9" r="1.6" fill="#1a1a1a"/><circle cx="700.6" cy="947.4" r="1.6" fill="#1a1a1a"/><circle cx="700.6" cy="966.9" r="1.6" fill="#1a1a1a"/>
<circle cx="782.0" cy="143.8" r="2.0" fill="#1a1a1a"/><circle cx="782.0" cy="163.3" r="2.0" fill="#1a1a1a"/><circle cx="782.0" cy="182.8" r="2.0" fill="#1a1a1a"/><circle cx="782.0" cy="202.3" r="2.0" fill="#1a1a1a"/><circle cx="782.0" cy="221.8" r="2.0" fill="#1a1a1a"/><circle cx="782.0" cy="241.3" r="2.0" fill="#1a1a1a"/><circle cx="782.0" cy="260.8" r="2.0" fill="#1a1a1a"/><circle cx="782.0" cy="280.3" r="2.0" fill="#1a1a1a"/><circle cx="782.0" cy="299.8" r="2.0" fill="#1a1a1a"/><circle cx="782.0" cy="319.3" r="2.0" fill="#1a1a1a"/><circle cx="782.0" cy="338.8" r="2.0" fill="#1a1a1a"/><circle cx="782.0" cy="358.3" r="2.0" fill="#1a1a1a"/><circle cx="782.0" cy="377.8" r="2.0" fill="#1a1a1a"/><circle cx="782.0" cy="397.3" r="2.0" fill="#1a1a1a"/><circle cx="782.0" cy="416.8" r="2.0" fill="#1a1a1a"/><circle cx="782.0" cy="436.3" r="2.0" fill="#1a1a1a"/><circle cx="782.0" cy="455.8" r="2.0" fill="#1a1a1a"/><circle cx="782.0" cy="475.3" r="2.0" fill="#1a1a1a"/><circle cx="782.0" cy="494.8" r="2.0" fill="#1a1a1a"/><circle cx="782.0" cy="514.3" r="2.0" fill="#1a1a1a"/><circle cx="782.0" cy="533.8" r="2.0" fill="#1a1a1a"/><circle cx="782.0" cy="553.3" r="2.0" fill="#1a1a1a"/><circle cx="782.0" cy="572.8" r="2.0" fill="#1a1a1a"/><circle cx="782.0" cy="592.3" r="2.0" fill="#1a1a1a"/><circle cx="782.0" cy="611.8" r="2.0" fill="#1a1a1a"/><circle cx="782.0" cy="631.3" r="2.0" fill="#1a1a1a"/><circle cx="782.0" cy="650.8" r="2.0" fill="#1a1a1a"/><circle cx="782.0" cy="670.3" r="2.0" fill="#1a1a1a"/><circle cx="782.0" cy="689.8" r="2.0" fill="#1a1a1a"/><circle cx="782.0" cy="709.3" r="2.0" fill="#1a1a1a"/><circle cx="782.0" cy="728.8" r="2.0" fill="#1a1a1a"/><circle cx="782.0" cy="748.3" r="2.0" fill="#1a1a1a"/><circle cx="782.0" cy="767.8" r="2.0" fill="#1a1a1a"/><circle cx="782.0" cy="787.3" r="2.0" fill="#1a1a1a"/><circle cx="782.0" cy="806.8" r="2.0" fill="#1a1a1a"/><circle cx="782.0" cy="826.3" r="2.0" fill="#1a1a1a"/><circle cx="782.0" cy="845.8" r="2.0" fill="#1a1a1a"/><circle cx="782.0" cy="865.3" r="2.0" fill="#1a1a1a"/><circle cx="782.0" cy="884.8" r="2.0" fill="#1a1a1a"/><circle cx="782.0" cy="904.3" r="2.0" fill="#1a1a1a"/><circle cx="782.0" cy="923.8" r="2.0" fill="#1a1a1a"/><circle cx="782.0" cy="943.3" r="2.0" fill="#1a1a1a"/><circle cx="782.0" cy="962.8" r="2.0" fill="#1a1a1a"/>
<circle cx="1089.2" cy="1305.9" r="1.8" fill="#1a1a1a"/><circle cx="1089.2" cy="1325.6" r="1.8" fill="#1a1a1a"/><circle cx="1089.2" cy="1345.2" r="1.8" fill="#1a1a1a"/><circle cx="1089.2" cy="1364.9" r="1.8" fill="#1a1a1a"/><circle cx="1089.2" cy="1384.5" r="1.8" fill="#1a1a1a"/><circle cx="1089.2" cy="1404.2" r="1.8" fill="#1a1a1a"/><circle cx="1089.2" cy="1423.9" r="1.8" fill="#1a1a1a"/><circle cx="1089.2" cy="1443.5" r="1.8" fill="#1a1a1a"/><circle cx="1089.2" cy="1463.2" r="1.8" fill="#1a1a1a"/><circle cx="1089.2" cy="1482.8" r="1.8" fill="#1a1a1a"/><circle cx="1089.2" cy="1502.5" r="1.8" fill="#1a1a1a"/><circle cx="1089.2" cy="1522.2" r="1.8" fill="#1a1a1a"/><circle cx="1089.2" cy="1541.8" r="1.8" fill="#1a1a1a"/><circle cx="1089.2" cy="1561.5" r="1.8" fill="#1a1a1a"/><circle cx="1089.2" cy="1581.1" r="1.8" fill="#1a1a1a"/><circle cx="1089.2" cy="1600.8" r="1.8" fill="#1a1a1a"/><circle cx="1089.2" cy="1620.5" r="1.8" fill="#1a1a1a"/><circle cx="1089.2" cy="1640.1" r="1.8" fill="#1a1a1a"/><circle cx="1089.2" cy="1659.8" r="1.8" fill="#1a1a1a"/><circle cx="1089.2" cy="1679.4" r="1.8" fill="#1a1a1a"/><circle cx="1089.2" cy="1699.1" r="1.8" fill="#1a1a1a"/><circle cx="1089.2" cy="1718.8" r="1.8" fill="#1a1a1a"/><circle cx="1089.2" cy="1738.4" r="1.8" fill="#1a1a1a"/><circle cx="1089.2" cy="1758.1" r="1.8" fill="#1a1a1a"/><circle cx="1089.2" cy="1777.7" r="1.8" fill="#1a1a1a"/><circle cx="1089.2" cy="1797.4" r="1.8" fill="#1a1a1a"/><circle cx="1089.2" cy="1817.1" r="1.8" fill="#1a1a1a"/><circle cx="1089.2" cy="1836.7" r="1.8" fill="#1a1a1a"/><circle cx="1089.2" cy="1856.4" r="1.8" fill="#1a1a1a"/><circle cx="1089.2" cy="1876.0" r="1.8" fill="#1a1a1a"/><circle cx="1089.2" cy="1895.7" r="1.8" fill="#1a1a1a"/><circle cx="1089.2" cy="1915.4" r="1.8" fill="#1a1a1a"/><circle cx="1089.2" cy="1935.0" r="1.8" fill="#1a1a1a"/><circle cx="1089.2" cy="1954.7" r="1.8" fill="#1a1a1a"/><circle cx="1089.2" cy="1974.3" r="1.8" fill="#1a1a1a"/><circle cx="1089.2" cy="1994.0" r="1.8" fill="#1a1a1a"/><circle cx="1089.2" cy="2013.7" r="1.8" fill="#1a1a1a"/><circle cx="1089.2" cy="2033.3" r="1.8" fill="#1a1a1a"/><circle cx="1089.2" cy="2053.0" r="1.8" fill="#1a1a1a"/><circle cx="1089.2" cy="2072.6" r="1.8" fill="#1a1a1a"/><circle cx="1089.2" cy="2092.3" r="1.8" fill="#1a1a1a"/>
<rect x="110.8" y="20.5" width="1283.1" height="954.9" fill="none" stroke="#000" stroke-width="7.8"/>
<rect x="106.5" y="1149" width="1291.4" height="959.8" fill="none" stroke="#000" stroke-width="7.8"/>
<line x1="155.6" y1="978" x2="155.6" y2="992.5" stroke="#000" stroke-width="7.5" stroke-linecap="round"/>
<path d="M208.1,978 L215.7,978 L213.9,987.5 L209.9,987.5 Z" fill="#000"/>
<line x1="268.1" y1="978" x2="268.1" y2="992.5" stroke="#000" stroke-width="7.5" stroke-linecap="round"/>
<path d="M320.6,978 L328.2,978 L326.4,987.5 L322.4,987.5 Z" fill="#000"/>
<line x1="380.7" y1="978" x2="380.7" y2="992.5" stroke="#000" stroke-width="7.5" stroke-linecap="round"/>
<path d="M433.1,978 L440.7,978 L438.9,987.5 L434.9,987.5 Z" fill="#000"/>
<line x1="493.2" y1="978" x2="493.2" y2="992.5" stroke="#000" stroke-width="7.5" stroke-linecap="round"/>
<path d="M545.6,978 L553.2,978 L551.4,987.5 L547.4,987.5 Z" fill="#000"/>
<line x1="605.7" y1="978" x2="605.7" y2="992.5" stroke="#000" stroke-width="7.5" stroke-linecap="round"/>
<path d="M658.2,978 L665.8,978 L664.0,987.5 L660.0,987.5 Z" fill="#000"/>
<line x1="718.2" y1="978" x2="718.2" y2="992.5" stroke="#000" stroke-width="7.5" stroke-linecap="round"/>
<path d="M770.7,978 L778.3,978 L776.5,987.5 L772.5,987.5 Z" fill="#000"/>
<line x1="830.8" y1="978" x2="830.8" y2="992.5" stroke="#000" stroke-width="7.5" stroke-linecap="round"/>
<path d="M883.2,978 L890.8,978 L889.0,987.5 L885.0,987.5 Z" fill="#000"/>
<line x1="943.3" y1="978" x2="943.3" y2="992.5" stroke="#000" stroke-width="7.5" stroke-linecap="round"/>
<path d="M995.7,978 L1003.3,978 L1001.5,987.5 L997.5,987.5 Z" fill="#000"/>
<line x1="1055.8" y1="978" x2="1055.8" y2="992.5" stroke="#000" stroke-width="7.5" stroke-linecap="round"/>
<path d="M1108.3,978 L1115.9,978 L1114.1,987.5 L1110.1,987.5 Z" fill="#000"/>
<line x1="1168.3" y1="978" x2="1168.3" y2="992.5" stroke="#000" stroke-width="7.5" stroke-linecap="round"/>
<path d="M1220.8,978 L1228.4,978 L1226.6,987.5 L1222.6,987.5 Z" fill="#000"/>
<line x1="1280.9" y1="978" x2="1280.9" y2="992.5" stroke="#000" stroke-width="7.5" stroke-linecap="round"/>
<path d="M1333.3,978 L1340.9,978 L1339.1,987.5 L1335.1,987.5 Z" fill="#000"/>
<line x1="1393.4" y1="978" x2="1393.4" y2="992.5" stroke="#000" stroke-width="7.5" stroke-linecap="round"/>
<line x1="107.8" y1="2112" x2="107.8" y2="2125.5" stroke="#000" stroke-width="7.5" stroke-linecap="round"/>
<path d="M157.6,2112 L165.6,2112 L163.6,2120.5 L159.6,2120.5 Z" fill="#000"/>
<line x1="215.3" y1="2112" x2="215.3" y2="2125.5" stroke="#000" stroke-width="7.5" stroke-linecap="round"/>
<path d="M265.1,2112 L273.1,2112 L271.1,2120.5 L267.1,2120.5 Z" fill="#000"/>
<line x1="322.8" y1="2112" x2="322.8" y2="2125.5" stroke="#000" stroke-width="7.5" stroke-linecap="round"/>
<path d="M372.6,2112 L380.6,2112 L378.6,2120.5 L374.6,2120.5 Z" fill="#000"/>
<line x1="430.3" y1="2112" x2="430.3" y2="2125.5" stroke="#000" stroke-width="7.5" stroke-linecap="round"/>
<path d="M480.1,2112 L488.1,2112 L486.1,2120.5 L482.1,2120.5 Z" fill="#000"/>
<line x1="537.8" y1="2112" x2="537.8" y2="2125.5" stroke="#000" stroke-width="7.5" stroke-linecap="round"/>
<path d="M587.5,2112 L595.5,2112 L593.5,2120.5 L589.5,2120.5 Z" fill="#000"/>
<line x1="645.3" y1="2112" x2="645.3" y2="2125.5" stroke="#000" stroke-width="7.5" stroke-linecap="round"/>
<path d="M695.0,2112 L703.0,2112 L701.0,2120.5 L697.0,2120.5 Z" fill="#000"/>
<line x1="752.8" y1="2112" x2="752.8" y2="2125.5" stroke="#000" stroke-width="7.5" stroke-linecap="round"/>
<path d="M802.5,2112 L810.5,2112 L808.5,2120.5 L804.5,2120.5 Z" fill="#000"/>
<line x1="860.3" y1="2112" x2="860.3" y2="2125.5" stroke="#000" stroke-width="7.5" stroke-linecap="round"/>
<path d="M910.0,2112 L918.0,2112 L916.0,2120.5 L912.0,2120.5 Z" fill="#000"/>
<line x1="967.8" y1="2112" x2="967.8" y2="2125.5" stroke="#000" stroke-width="7.5" stroke-linecap="round"/>
<path d="M1017.5,2112 L1025.5,2112 L1023.5,2120.5 L1019.5,2120.5 Z" fill="#000"/>
<line x1="1075.3" y1="2112" x2="1075.3" y2="2125.5" stroke="#000" stroke-width="7.5" stroke-linecap="round"/>
<path d="M1125.0,2112 L1133.0,2112 L1131.0,2120.5 L1127.0,2120.5 Z" fill="#000"/>
<line x1="1182.8" y1="2112" x2="1182.8" y2="2125.5" stroke="#000" stroke-width="7.5" stroke-linecap="round"/>
<path d="M1232.5,2112 L1240.5,2112 L1238.5,2120.5 L1234.5,2120.5 Z" fill="#000"/>
<line x1="1290.3" y1="2112" x2="1290.3" y2="2125.5" stroke="#000" stroke-width="7.5" stroke-linecap="round"/>
<path d="M1340.0,2112 L1348.0,2112 L1346.0,2120.5 L1342.0,2120.5 Z" fill="#000"/>
<line x1="1397.8" y1="2112" x2="1397.8" y2="2125.5" stroke="#000" stroke-width="7.5" stroke-linecap="round"/>
<text transform="translate(113.96 1048.93) scale(0.9620 1)" font-size="57.29" font-weight="normal" fill="#000">792</text>
<text transform="translate(226.53 1048.93) scale(0.9545 1)" font-size="57.04" font-weight="normal" fill="#000">790</text>
<text transform="translate(339.06 1048.93) scale(0.9545 1)" font-size="57.04" font-weight="normal" fill="#000">788</text>
<text transform="translate(451.61 1048.93) scale(0.9491 1)" font-size="57.04" font-weight="normal" fill="#000">786</text>
<text transform="translate(564.17 1048.93) scale(0.9397 1)" font-size="57.04" font-weight="normal" fill="#000">784</text>
<text transform="translate(676.59 1048.93) scale(0.9663 1)" font-size="57.04" font-weight="normal" fill="#000">782</text>
<text transform="translate(789.16 1048.93) scale(0.9545 1)" font-size="57.04" font-weight="normal" fill="#000">780</text>
<text transform="translate(901.69 1048.93) scale(0.9545 1)" font-size="57.04" font-weight="normal" fill="#000">778</text>
<text transform="translate(1014.24 1048.93) scale(0.9448 1)" font-size="57.29" font-weight="normal" fill="#000">776</text>
<text transform="translate(1126.80 1049.50) scale(0.9160 1)" font-size="58.51" font-weight="normal" fill="#000">774</text>
<text transform="translate(1239.22 1049.50) scale(0.9476 1)" font-size="58.16" font-weight="normal" fill="#000">772</text>
<text transform="translate(1351.79 1048.93) scale(0.9545 1)" font-size="57.04" font-weight="normal" fill="#000">770</text>
<text transform="translate(66.53 2182.16) scale(1.0301 1)" font-size="53.63" font-weight="normal" fill="#000">930</text>
<text transform="translate(174.03 2182.16) scale(1.0263 1)" font-size="53.87" font-weight="normal" fill="#000">925</text>
<text transform="translate(281.53 2182.16) scale(1.0301 1)" font-size="53.63" font-weight="normal" fill="#000">920</text>
<text transform="translate(389.03 2182.16) scale(1.0263 1)" font-size="53.87" font-weight="normal" fill="#000">915</text>
<text transform="translate(496.53 2182.16) scale(1.0301 1)" font-size="53.63" font-weight="normal" fill="#000">910</text>
<text transform="translate(604.03 2182.16) scale(1.0308 1)" font-size="53.63" font-weight="normal" fill="#000">905</text>
<text transform="translate(711.53 2182.16) scale(1.0301 1)" font-size="53.63" font-weight="normal" fill="#000">900</text>
<text transform="translate(818.69 2182.16) scale(1.0352 1)" font-size="53.63" font-weight="normal" fill="#000">895</text>
<text transform="translate(926.19 2182.16) scale(1.0345 1)" font-size="53.63" font-weight="normal" fill="#000">890</text>
<text transform="translate(1033.69 2182.16) scale(1.0352 1)" font-size="53.63" font-weight="normal" fill="#000">885</text>
<text transform="translate(1141.19 2182.16) scale(1.0345 1)" font-size="53.63" font-weight="normal" fill="#000">880</text>
<text transform="translate(1248.69 2182.16) scale(1.0352 1)" font-size="53.63" font-weight="normal" fill="#000">875</text>
<text transform="translate(1356.19 2182.16) scale(1.0345 1)" font-size="53.63" font-weight="normal" fill="#000">870</text>
<text transform="translate(539.54 1109.90) scale(0.9467 1)" font-size="59.85" font-weight="bold" fill="#000">Binding energy / eV</text>
<text transform="translate(506.13 2240.60) scale(1.0095 1)" font-size="56.49" font-weight="bold" fill="#000">Binding energy / eV</text>
<text transform="translate(80.20 701.46) rotate(-90) scale(0.9631 1)" font-size="59.85" font-weight="bold" fill="#000">Intensity / a.u.</text>
<text transform="translate(69.10 1856.58) rotate(-90) scale(0.9199 1)" font-size="63.36" font-weight="bold" fill="#000">Intensity / a.u.</text>
<text transform="translate(23.42 114.03) scale(0.9853 1)" font-size="107.10" font-weight="bold" fill="#000">a</text>
<text transform="translate(39.97 1171.70) scale(0.9909 1)" font-size="80.26" font-weight="bold" fill="#000">b</text>
<text transform="translate(139.65 86.00) scale(0.9879 1)" font-size="54.66" font-weight="bold" fill="#000">Co 2p</text>
<text transform="translate(274.18 104.88) scale(1.0121 1)" font-size="31.70" font-weight="bold" fill="#000">3/2</text>
<text transform="translate(513.20 98.64) scale(1.0570 1)" font-size="46.43" font-weight="bold" fill="#000">Co</text>
<text transform="translate(572.80 68.00) scale(1.2472 1)" font-size="23.89" font-weight="bold" fill="#000">n+</text>
<text transform="translate(604.95 98.81) scale(0.9727 1)" font-size="48.66" font-weight="bold" fill="#000">-CeO</text>
<text transform="translate(713.20 97.80) scale(0.7895 1)" font-size="32.24" font-weight="bold" fill="#000">x</text>
<text transform="translate(774.55 80.88) scale(1.0828 1)" font-size="41.62" font-weight="bold" fill="#000">dissociative Co</text>
<text transform="translate(1062.99 52.00) scale(1.3614 1)" font-size="27.60" font-weight="bold" fill="#000">n-</text>
<text transform="translate(123.40 1202.70) scale(1.0118 1)" font-size="52.37" font-weight="bold" fill="#000">Ce 3d</text>
<text transform="translate(751.26 1230.34) scale(0.9897 1)" font-size="56.40" font-weight="bold" fill="#000">Ce</text>
<text transform="translate(814.08 1199.60) scale(1.0187 1)" font-size="29.33" font-weight="bold" fill="#000">4+</text>
<text transform="translate(903.82 1327.71) scale(0.9333 1)" font-size="58.63" font-weight="bold" fill="#000">Ce</text>
<text transform="translate(967.16 1296.70) scale(1.0198 1)" font-size="31.16" font-weight="bold" fill="#000">4+</text>
<text transform="translate(1026.81 1279.64) scale(0.9735 1)" font-size="56.40" font-weight="bold" fill="#000">Ce</text>
<text transform="translate(1089.04 1249.86) scale(0.9023 1)" font-size="33.93" font-weight="bold" fill="#000">3+</text>
<text transform="translate(1145.11 1271.74) scale(0.9761 1)" font-size="56.25" font-weight="bold" fill="#000">Ce</text>
<text transform="translate(1208.12 1240.00) scale(0.9939 1)" font-size="27.66" font-weight="bold" fill="#000">4+</text>
<text transform="translate(1078.02 381.60) scale(0.9924 1)" font-size="45.87" font-weight="normal" fill="#000">30%Co/CeO</text>
<text transform="translate(1309.56 382.20) scale(1.0739 1)" font-size="25.27" font-weight="normal" fill="#000">x</text>
<text transform="translate(1080.89 557.42) scale(1.0177 1)" font-size="44.99" font-weight="normal" fill="#000">20%Co/CeO</text>
<text transform="translate(1313.76 558.00) scale(1.0739 1)" font-size="25.27" font-weight="normal" fill="#000">x</text>
<text transform="translate(1086.01 721.73) scale(1.0417 1)" font-size="43.51" font-weight="normal" fill="#000">10%Co/CeO</text>
<text transform="translate(1316.56 722.30) scale(1.0739 1)" font-size="25.27" font-weight="normal" fill="#000">x</text>
<text transform="translate(1095.34 900.17) scale(1.1138 1)" font-size="41.15" font-weight="normal" fill="#000">5%Co/CeO</text>
<text transform="translate(1305.56 900.70) scale(1.0739 1)" font-size="25.27" font-weight="normal" fill="#000">x</text>
<text transform="translate(1158.93 1390.88) scale(1.0344 1)" font-size="39.68" font-weight="normal" fill="#000">30%Co/CeO</text>
<text transform="translate(1367.83 1391.40) scale(0.7840 1)" font-size="23.97" font-weight="normal" fill="#000">x</text>
<text transform="translate(1163.60 1564.67) scale(1.0066 1)" font-size="40.56" font-weight="normal" fill="#000">20%Co/CeO</text>
<text transform="translate(1371.43 1565.20) scale(0.7840 1)" font-size="23.97" font-weight="normal" fill="#000">x</text>
<text transform="translate(1166.96 1770.53) scale(1.1120 1)" font-size="36.14" font-weight="normal" fill="#000">10%Co/CeO</text>
<text transform="translate(1371.53 1771.00) scale(0.7840 1)" font-size="23.97" font-weight="normal" fill="#000">x</text>
<text transform="translate(1177.60 2026.48) scale(1.0446 1)" font-size="39.68" font-weight="normal" fill="#000">5%Co/CeO</text>
<text transform="translate(1367.83 2027.00) scale(0.7840 1)" font-size="23.97" font-weight="normal" fill="#000">x</text>
<line x1="647.4" y1="119.4" x2="672" y2="144" stroke="#2a3a4a" stroke-width="1.6"/>
<polygon points="670.3,149.5 678.8,141.6 691.9,163.2" fill="#000"/>
<line x1="833.7" y1="95.3" x2="805" y2="119" stroke="#2a3a4a" stroke-width="1.6"/>
<polygon points="798.6,115.3 807.6,124.3 784.7,133.8" fill="#000"/>
<line x1="786.1" y1="1242.4" x2="786.1" y2="1285" stroke="#556" stroke-width="1.3"/>
<polygon points="779.5,1283 792.7,1283 786.3,1298" fill="#000"/>
<line x1="941.2" y1="1333.4" x2="957" y2="1355" stroke="#3a4a5a" stroke-width="1.4"/>
<polygon points="952.5,1359.8 962.4,1354 966.9,1371.2" fill="#000"/>
<line x1="1165.9" y1="1287.3" x2="1146.2" y2="1315.7" stroke="#3a4a5a" stroke-width="1.4"/>
<polygon points="1137.5,1318 1144,1313.5 1148.5,1320 1139.5,1329.5 1133,1331" fill="#000"/>
</g>
</svg>
</body></html>
